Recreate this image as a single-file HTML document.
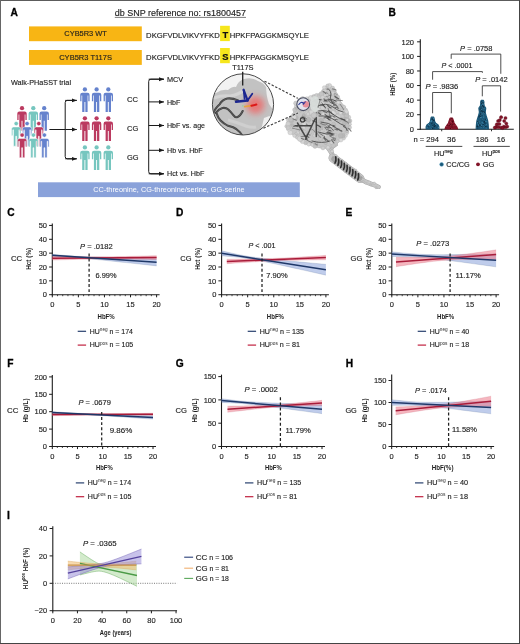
<!DOCTYPE html><html><head><meta charset="utf-8"><style>html,body{margin:0;padding:0;background:#fff;}svg{display:block;font-family:"Liberation Sans",sans-serif;will-change:transform;}</style></head><body>
<svg width="520" height="644" viewBox="0 0 520 644">
<rect x="0.00" y="0.00" width="520.00" height="644.00" fill="#fff"/>
<text x="10.60" y="15.60" font-size="10.2" font-weight="bold" fill="#000" stroke="#000" stroke-width="0.3">A</text>
<text x="114.80" y="16.00" font-size="8.9" textLength="131.2" lengthAdjust="spacingAndGlyphs" fill="#1e1e1e" stroke="#1e1e1e" stroke-width="0.14">db SNP reference no: rs1800457</text>
<line x1="114.80" y1="17.40" x2="246.00" y2="17.40" stroke="#444" stroke-width="0.7"/>
<rect x="29.00" y="26.40" width="112.80" height="14.80" fill="#f8b514"/>
<rect x="29.00" y="50.00" width="112.80" height="14.90" fill="#f8b514"/>
<text x="85.60" y="36.40" font-size="7.4" text-anchor="middle" textLength="42.6" lengthAdjust="spacingAndGlyphs" fill="#1e1e1e" stroke="#1e1e1e" stroke-width="0.14">CYB5R3 WT</text>
<text x="85.60" y="60.00" font-size="7.4" text-anchor="middle" textLength="52.8" lengthAdjust="spacingAndGlyphs" fill="#1e1e1e" stroke="#1e1e1e" stroke-width="0.14">CYB5R3 T117S</text>
<rect x="220.10" y="25.80" width="9.70" height="15.30" fill="#f6e61c"/>
<rect x="220.10" y="48.00" width="9.70" height="15.20" fill="#f6e61c"/>
<text x="146.10" y="37.70" font-size="7.7" textLength="73.6" lengthAdjust="spacingAndGlyphs" fill="#1e1e1e" stroke="#1e1e1e" stroke-width="0.14">DKGFVDLVIKVYFKD</text>
<text x="225.3" y="37.70" font-size="9.3" font-weight="bold" text-anchor="middle" fill="#111" stroke="#111" stroke-width="0.2">T</text>
<text x="229.70" y="37.70" font-size="7.7" textLength="79.3" lengthAdjust="spacingAndGlyphs" fill="#1e1e1e" stroke="#1e1e1e" stroke-width="0.14">HPKFPAGGKMSQYLE</text>
<text x="146.10" y="60.40" font-size="7.7" textLength="73.6" lengthAdjust="spacingAndGlyphs" fill="#1e1e1e" stroke="#1e1e1e" stroke-width="0.14">DKGFVDLVIKVYFKD</text>
<text x="225.3" y="60.40" font-size="9.3" font-weight="bold" text-anchor="middle" fill="#111" stroke="#111" stroke-width="0.2">S</text>
<text x="229.70" y="60.40" font-size="7.7" textLength="79.3" lengthAdjust="spacingAndGlyphs" fill="#1e1e1e" stroke="#1e1e1e" stroke-width="0.14">HPKFPAGGKMSQYLE</text>
<text x="232.20" y="70.40" font-size="7.4" textLength="21.4" lengthAdjust="spacingAndGlyphs" fill="#1e1e1e" stroke="#1e1e1e" stroke-width="0.14">T117S</text>
<text x="11.00" y="85.20" font-size="7.3" textLength="60" lengthAdjust="spacingAndGlyphs" fill="#1e1e1e" stroke="#1e1e1e" stroke-width="0.14">Walk-PHaSST trial</text>
<defs><g id="pp"><circle cx="0" cy="0" r="2.15"/><path d="M-4.7,5.4 Q-4.7,3.3 -2.6,3.3 L2.6,3.3 Q4.7,3.3 4.7,5.4 L4.7,11.8 L3.4,11.8 L3.4,6.2 L2.7,6.2 L2.7,22.6 L0.45,22.6 L0.45,12.6 L-0.45,12.6 L-0.45,22.6 L-2.7,22.6 L-2.7,6.2 L-3.4,6.2 L-3.4,11.8 L-4.7,11.8 Z"/></g></defs>
<use href="#pp" x="22.00" y="108.20" fill="#bb3a60"/>
<use href="#pp" x="33.30" y="108.20" fill="#76c6bf"/>
<use href="#pp" x="44.20" y="108.20" fill="#6582cd"/>
<use href="#pp" x="16.20" y="123.60" fill="#76c6bf" stroke="#fff" stroke-width="0.5"/>
<use href="#pp" x="27.10" y="123.60" fill="#6582cd" stroke="#fff" stroke-width="0.5"/>
<use href="#pp" x="38.80" y="123.60" fill="#bb3a60" stroke="#fff" stroke-width="0.5"/>
<use href="#pp" x="22.10" y="135.10" fill="#bb3a60" stroke="#fff" stroke-width="0.5"/>
<use href="#pp" x="33.40" y="135.10" fill="#76c6bf" stroke="#fff" stroke-width="0.5"/>
<use href="#pp" x="44.40" y="135.10" fill="#6582cd" stroke="#fff" stroke-width="0.5"/>
<use href="#pp" x="84.90" y="89.40" fill="#6582cd"/>
<use href="#pp" x="96.60" y="89.40" fill="#6582cd"/>
<use href="#pp" x="108.30" y="89.40" fill="#6582cd"/>
<use href="#pp" x="84.90" y="118.30" fill="#bb3a60"/>
<use href="#pp" x="96.60" y="118.30" fill="#bb3a60"/>
<use href="#pp" x="108.30" y="118.30" fill="#bb3a60"/>
<use href="#pp" x="84.90" y="147.40" fill="#76c6bf"/>
<use href="#pp" x="96.60" y="147.40" fill="#76c6bf"/>
<use href="#pp" x="108.30" y="147.40" fill="#76c6bf"/>
<defs><marker id="ah" viewBox="0 0 10 10" refX="10" refY="5" markerWidth="5.2" markerHeight="5.2" markerUnits="userSpaceOnUse" orient="auto"><path d="M0,1 L10,5 L0,9 Z" fill="#1a1a1a"/></marker></defs>
<line x1="49.40" y1="129.50" x2="65.20" y2="129.50" stroke="#1a1a1a" stroke-width="1"/>
<path d="M76.6,100.4 L67.4,100.4 Q65.2,100.4 65.2,102.6 L65.2,156.6 Q65.2,158.8 67.4,158.8 L76.6,158.8" fill="none" stroke="#1a1a1a" stroke-width="1"/>
<line x1="65.20" y1="100.40" x2="76.80" y2="100.40" stroke="#1a1a1a" stroke-width="1" marker-end="url(#ah)"/>
<line x1="65.20" y1="129.50" x2="76.80" y2="129.50" stroke="#1a1a1a" stroke-width="1" marker-end="url(#ah)"/>
<line x1="65.20" y1="158.80" x2="76.80" y2="158.80" stroke="#1a1a1a" stroke-width="1" marker-end="url(#ah)"/>
<text x="127.00" y="101.90" font-size="7.6" textLength="11" lengthAdjust="spacingAndGlyphs" fill="#1e1e1e" stroke="#1e1e1e" stroke-width="0.14">CC</text>
<text x="127.00" y="131.00" font-size="7.6" textLength="11.2" lengthAdjust="spacingAndGlyphs" fill="#1e1e1e" stroke="#1e1e1e" stroke-width="0.14">CG</text>
<text x="127.00" y="159.70" font-size="7.6" textLength="11.6" lengthAdjust="spacingAndGlyphs" fill="#1e1e1e" stroke="#1e1e1e" stroke-width="0.14">GG</text>
<path d="M163.8,79.2 L150.9,79.2 Q148.7,79.2 148.7,81.4 L148.7,171.6 Q148.7,173.8 150.9,173.8 L163.8,173.8" fill="none" stroke="#1a1a1a" stroke-width="1"/>
<line x1="148.70" y1="79.20" x2="164.00" y2="79.20" stroke="#1a1a1a" stroke-width="1" marker-end="url(#ah)"/>
<text x="167.00" y="81.80" font-size="7.3" textLength="16.2" lengthAdjust="spacingAndGlyphs" fill="#1e1e1e" stroke="#1e1e1e" stroke-width="0.14">MCV</text>
<line x1="148.70" y1="101.90" x2="164.00" y2="101.90" stroke="#1a1a1a" stroke-width="1" marker-end="url(#ah)"/>
<text x="167.00" y="104.50" font-size="7.3" textLength="13.4" lengthAdjust="spacingAndGlyphs" fill="#1e1e1e" stroke="#1e1e1e" stroke-width="0.14">HbF</text>
<line x1="148.70" y1="125.50" x2="164.00" y2="125.50" stroke="#1a1a1a" stroke-width="1" marker-end="url(#ah)"/>
<text x="167.00" y="128.10" font-size="7.3" textLength="38" lengthAdjust="spacingAndGlyphs" fill="#1e1e1e" stroke="#1e1e1e" stroke-width="0.14">HbF vs. age</text>
<line x1="148.70" y1="150.30" x2="164.00" y2="150.30" stroke="#1a1a1a" stroke-width="1" marker-end="url(#ah)"/>
<text x="167.00" y="152.90" font-size="7.3" textLength="35.6" lengthAdjust="spacingAndGlyphs" fill="#1e1e1e" stroke="#1e1e1e" stroke-width="0.14">Hb vs. HbF</text>
<line x1="148.70" y1="173.80" x2="164.00" y2="173.80" stroke="#1a1a1a" stroke-width="1" marker-end="url(#ah)"/>
<text x="167.00" y="176.40" font-size="7.3" textLength="37.4" lengthAdjust="spacingAndGlyphs" fill="#1e1e1e" stroke="#1e1e1e" stroke-width="0.14">Hct vs. HbF</text>
<rect x="38.00" y="182.30" width="261.80" height="14.80" fill="#8aa2da"/>
<text x="93.30" y="192.30" font-size="7.3" textLength="151.3" lengthAdjust="spacingAndGlyphs" fill="#fff">CC-threonine, CG-threonine/serine, GG-serine</text>
<defs><filter id="bl" x="-20%" y="-20%" width="140%" height="140%"><feGaussianBlur stdDeviation="0.6"/></filter><filter id="bl2" x="-50%" y="-50%" width="200%" height="200%"><feGaussianBlur stdDeviation="3"/></filter><filter id="bl3" x="-20%" y="-20%" width="140%" height="140%"><feGaussianBlur stdDeviation="0.35"/></filter><clipPath id="cc"><circle cx="243" cy="104.4" r="30.6"/></clipPath></defs>
<path d="M326,145 L329,149 L331.5,153 L333,158" fill="none" stroke="#a9a9a9" stroke-width="4.6" stroke-linecap="round" stroke-linejoin="round" filter="url(#bl3)"/>
<path d="M326,145 L329,149 L331.5,153 L333,158" fill="none" stroke="#c6c6c6" stroke-width="3.6" stroke-linecap="round" stroke-linejoin="round" filter="url(#bl3)"/>
<path d="M330.5,148.5 L336.5,144.2" fill="none" stroke="#a9a9a9" stroke-width="3.6" stroke-linecap="round" stroke-linejoin="round" filter="url(#bl3)"/>
<path d="M330.5,148.5 L336.5,144.2" fill="none" stroke="#c6c6c6" stroke-width="2.6" stroke-linecap="round" stroke-linejoin="round" filter="url(#bl3)"/>
<path d="M333,158 L346.5,168.2 L360,178.5" fill="none" stroke="#a9a9a9" stroke-width="9.0" stroke-linecap="round" stroke-linejoin="round" filter="url(#bl3)"/>
<path d="M333,158 L346.5,168.2 L360,178.5" fill="none" stroke="#c6c6c6" stroke-width="8.0" stroke-linecap="round" stroke-linejoin="round" filter="url(#bl3)"/>
<path d="M360,178.5 L365,181.5 L370,183.5 L375,185.3 L378.5,187" fill="none" stroke="#a9a9a9" stroke-width="4.6" stroke-linecap="round" stroke-linejoin="round" filter="url(#bl3)"/>
<path d="M360,178.5 L365,181.5 L370,183.5 L375,185.3 L378.5,187" fill="none" stroke="#c6c6c6" stroke-width="3.6" stroke-linecap="round" stroke-linejoin="round" filter="url(#bl3)"/>
<g filter="url(#bl3)">
<circle cx="325.4" cy="147.0" r="1.2" fill="#d4d4d4" stroke="#a5a5a5" stroke-width="0.35"/>
<circle cx="329.1" cy="147.4" r="1.2" fill="#c2c2c2" stroke="#a5a5a5" stroke-width="0.35"/>
<circle cx="330.5" cy="149.5" r="1.0" fill="#d4d4d4" stroke="#a5a5a5" stroke-width="0.35"/>
<circle cx="332.1" cy="151.2" r="1.6" fill="#d4d4d4" stroke="#a5a5a5" stroke-width="0.35"/>
<circle cx="333.3" cy="153.8" r="0.9" fill="#c2c2c2" stroke="#a5a5a5" stroke-width="0.35"/>
<circle cx="333.7" cy="156.4" r="1.3" fill="#cdcdcd" stroke="#a5a5a5" stroke-width="0.35"/>
<circle cx="332.0" cy="148.5" r="1.5" fill="#c2c2c2" stroke="#a5a5a5" stroke-width="0.35"/>
<circle cx="332.9" cy="145.5" r="0.9" fill="#d4d4d4" stroke="#a5a5a5" stroke-width="0.35"/>
<circle cx="334.9" cy="144.1" r="1.2" fill="#d4d4d4" stroke="#a5a5a5" stroke-width="0.35"/>
<circle cx="336.0" cy="156.0" r="1.4" fill="#d4d4d4" stroke="#a5a5a5" stroke-width="0.35"/>
<circle cx="334.7" cy="161.8" r="1.4" fill="#c2c2c2" stroke="#a5a5a5" stroke-width="0.35"/>
<circle cx="336.5" cy="163.4" r="1.2" fill="#d4d4d4" stroke="#a5a5a5" stroke-width="0.35"/>
<circle cx="342.0" cy="160.2" r="1.0" fill="#cdcdcd" stroke="#a5a5a5" stroke-width="0.35"/>
<circle cx="343.5" cy="162.2" r="1.2" fill="#c2c2c2" stroke="#a5a5a5" stroke-width="0.35"/>
<circle cx="345.5" cy="163.5" r="1.4" fill="#cdcdcd" stroke="#a5a5a5" stroke-width="0.35"/>
<circle cx="343.9" cy="169.6" r="1.1" fill="#d4d4d4" stroke="#a5a5a5" stroke-width="0.35"/>
<circle cx="345.3" cy="171.7" r="1.0" fill="#cdcdcd" stroke="#a5a5a5" stroke-width="0.35"/>
<circle cx="350.6" cy="168.8" r="1.5" fill="#d4d4d4" stroke="#a5a5a5" stroke-width="0.35"/>
<circle cx="353.4" cy="169.2" r="1.2" fill="#cdcdcd" stroke="#a5a5a5" stroke-width="0.35"/>
<circle cx="355.7" cy="170.2" r="1.2" fill="#cdcdcd" stroke="#a5a5a5" stroke-width="0.35"/>
<circle cx="353.8" cy="176.6" r="1.6" fill="#d4d4d4" stroke="#a5a5a5" stroke-width="0.35"/>
<circle cx="358.6" cy="174.3" r="1.1" fill="#c2c2c2" stroke="#a5a5a5" stroke-width="0.35"/>
<circle cx="360.5" cy="175.8" r="1.6" fill="#d4d4d4" stroke="#a5a5a5" stroke-width="0.35"/>
<circle cx="361.7" cy="178.4" r="1.0" fill="#cdcdcd" stroke="#a5a5a5" stroke-width="0.35"/>
<circle cx="363.3" cy="181.5" r="1.1" fill="#c2c2c2" stroke="#a5a5a5" stroke-width="0.35"/>
<circle cx="365.8" cy="183.2" r="1.0" fill="#cdcdcd" stroke="#a5a5a5" stroke-width="0.35"/>
<circle cx="369.1" cy="182.2" r="1.2" fill="#d4d4d4" stroke="#a5a5a5" stroke-width="0.35"/>
<circle cx="370.9" cy="184.9" r="1.2" fill="#c2c2c2" stroke="#a5a5a5" stroke-width="0.35"/>
<circle cx="374.3" cy="183.3" r="1.3" fill="#cdcdcd" stroke="#a5a5a5" stroke-width="0.35"/>
<circle cx="376.0" cy="187.7" r="1.1" fill="#c2c2c2" stroke="#a5a5a5" stroke-width="0.35"/>
</g>
<path d="M329.8,85.4 L335.1,90.8 L337.8,97.5 L340.5,102.9 L344.6,106.9 L347.3,113.6 L349.9,120.4 L349.9,127.1 L347.3,132.5 L343.2,137.9 L337.8,141.9 L333,145 L328,147.5 L323,148 L315,146 L305.5,143.3 L297.5,137.9 L290.7,132.5 L286.7,125.8 L288,120.4 L293.4,115 L294.8,109.6 L296.1,102.9 L303,98.5 L310.9,97.5 L316.3,94.8 L321.7,93.5 L324.4,88 L327.1,85.4 Z" fill="#c6c6c6" stroke="#c6c6c6" stroke-width="2" stroke-linejoin="round" filter="url(#bl3)"/>
<g filter="url(#bl3)">
<circle cx="329.4" cy="85.7" r="2.3" fill="#d4d4d4" stroke="#adadad" stroke-width="0.35"/>
<circle cx="332.7" cy="88.0" r="1.9" fill="#cdcdcd" stroke="#adadad" stroke-width="0.35"/>
<circle cx="335.0" cy="90.3" r="1.4" fill="#c4c4c4" stroke="#adadad" stroke-width="0.35"/>
<circle cx="336.1" cy="94.4" r="1.7" fill="#dadada" stroke="#adadad" stroke-width="0.35"/>
<circle cx="337.6" cy="97.1" r="2.1" fill="#cdcdcd" stroke="#adadad" stroke-width="0.35"/>
<circle cx="338.7" cy="100.2" r="2.1" fill="#cdcdcd" stroke="#adadad" stroke-width="0.35"/>
<circle cx="340.2" cy="103.4" r="1.6" fill="#cdcdcd" stroke="#adadad" stroke-width="0.35"/>
<circle cx="344.1" cy="106.8" r="1.6" fill="#cdcdcd" stroke="#adadad" stroke-width="0.35"/>
<circle cx="345.6" cy="110.1" r="2.0" fill="#d4d4d4" stroke="#adadad" stroke-width="0.35"/>
<circle cx="346.8" cy="113.2" r="1.9" fill="#c4c4c4" stroke="#adadad" stroke-width="0.35"/>
<circle cx="348.8" cy="117.2" r="2.0" fill="#d4d4d4" stroke="#adadad" stroke-width="0.35"/>
<circle cx="350.0" cy="120.9" r="1.9" fill="#c4c4c4" stroke="#adadad" stroke-width="0.35"/>
<circle cx="350.1" cy="124.3" r="1.4" fill="#cdcdcd" stroke="#adadad" stroke-width="0.35"/>
<circle cx="349.9" cy="127.4" r="1.7" fill="#cdcdcd" stroke="#adadad" stroke-width="0.35"/>
<circle cx="346.8" cy="132.6" r="2.1" fill="#d4d4d4" stroke="#adadad" stroke-width="0.35"/>
<circle cx="345.6" cy="135.7" r="1.8" fill="#dadada" stroke="#adadad" stroke-width="0.35"/>
<circle cx="343.7" cy="138.3" r="1.8" fill="#cdcdcd" stroke="#adadad" stroke-width="0.35"/>
<circle cx="340.9" cy="140.0" r="2.0" fill="#dadada" stroke="#adadad" stroke-width="0.35"/>
<circle cx="337.7" cy="141.3" r="1.5" fill="#cdcdcd" stroke="#adadad" stroke-width="0.35"/>
<circle cx="333.2" cy="145.6" r="2.3" fill="#c4c4c4" stroke="#adadad" stroke-width="0.35"/>
<circle cx="327.9" cy="147.8" r="2.0" fill="#dadada" stroke="#adadad" stroke-width="0.35"/>
<circle cx="323.0" cy="148.0" r="1.9" fill="#cdcdcd" stroke="#adadad" stroke-width="0.35"/>
<circle cx="318.8" cy="146.5" r="1.4" fill="#cdcdcd" stroke="#adadad" stroke-width="0.35"/>
<circle cx="315.0" cy="146.1" r="2.3" fill="#c4c4c4" stroke="#adadad" stroke-width="0.35"/>
<circle cx="312.3" cy="144.9" r="1.5" fill="#d4d4d4" stroke="#adadad" stroke-width="0.35"/>
<circle cx="308.7" cy="144.5" r="1.7" fill="#dadada" stroke="#adadad" stroke-width="0.35"/>
<circle cx="305.5" cy="143.0" r="1.8" fill="#c4c4c4" stroke="#adadad" stroke-width="0.35"/>
<circle cx="302.5" cy="141.4" r="2.2" fill="#d4d4d4" stroke="#adadad" stroke-width="0.35"/>
<circle cx="300.6" cy="139.6" r="2.0" fill="#c4c4c4" stroke="#adadad" stroke-width="0.35"/>
<circle cx="297.2" cy="137.5" r="1.8" fill="#cdcdcd" stroke="#adadad" stroke-width="0.35"/>
<circle cx="294.4" cy="135.7" r="1.7" fill="#d4d4d4" stroke="#adadad" stroke-width="0.35"/>
<circle cx="290.2" cy="132.5" r="2.3" fill="#dadada" stroke="#adadad" stroke-width="0.35"/>
<circle cx="288.6" cy="129.2" r="2.1" fill="#dadada" stroke="#adadad" stroke-width="0.35"/>
<circle cx="286.5" cy="126.2" r="1.7" fill="#cdcdcd" stroke="#adadad" stroke-width="0.35"/>
<circle cx="288.2" cy="120.1" r="1.8" fill="#cdcdcd" stroke="#adadad" stroke-width="0.35"/>
<circle cx="290.9" cy="117.6" r="1.6" fill="#c4c4c4" stroke="#adadad" stroke-width="0.35"/>
<circle cx="293.1" cy="114.6" r="1.4" fill="#cdcdcd" stroke="#adadad" stroke-width="0.35"/>
<circle cx="294.7" cy="109.8" r="2.1" fill="#c4c4c4" stroke="#adadad" stroke-width="0.35"/>
<circle cx="296.0" cy="106.5" r="1.6" fill="#dadada" stroke="#adadad" stroke-width="0.35"/>
<circle cx="295.8" cy="103.2" r="2.2" fill="#cdcdcd" stroke="#adadad" stroke-width="0.35"/>
<circle cx="299.2" cy="100.4" r="1.7" fill="#d4d4d4" stroke="#adadad" stroke-width="0.35"/>
<circle cx="302.9" cy="98.9" r="2.3" fill="#cdcdcd" stroke="#adadad" stroke-width="0.35"/>
<circle cx="306.8" cy="98.5" r="1.8" fill="#dadada" stroke="#adadad" stroke-width="0.35"/>
<circle cx="310.8" cy="97.7" r="2.3" fill="#dadada" stroke="#adadad" stroke-width="0.35"/>
<circle cx="313.7" cy="96.3" r="1.9" fill="#c4c4c4" stroke="#adadad" stroke-width="0.35"/>
<circle cx="316.3" cy="95.0" r="1.6" fill="#cdcdcd" stroke="#adadad" stroke-width="0.35"/>
<circle cx="321.4" cy="94.0" r="2.4" fill="#c4c4c4" stroke="#adadad" stroke-width="0.35"/>
<circle cx="323.1" cy="91.1" r="1.7" fill="#cdcdcd" stroke="#adadad" stroke-width="0.35"/>
<circle cx="324.2" cy="87.5" r="1.8" fill="#dadada" stroke="#adadad" stroke-width="0.35"/>
<circle cx="327.4" cy="85.4" r="1.4" fill="#cdcdcd" stroke="#adadad" stroke-width="0.35"/>
<circle cx="320.4" cy="128.4" r="2.5" fill="#b8b8b8" stroke="#a8a8a8" stroke-width="0.3"/>
<circle cx="296.1" cy="117.7" r="2.2" fill="#b8b8b8" stroke="#a8a8a8" stroke-width="0.3"/>
<circle cx="346.5" cy="116.2" r="2.5" fill="#c0c0c0" stroke="#a8a8a8" stroke-width="0.3"/>
<circle cx="334.6" cy="112.9" r="2.0" fill="#d6d6d6" stroke="#a8a8a8" stroke-width="0.3"/>
<circle cx="327.1" cy="118.1" r="2.4" fill="#d6d6d6" stroke="#a8a8a8" stroke-width="0.3"/>
<circle cx="302.9" cy="127.4" r="2.5" fill="#d6d6d6" stroke="#a8a8a8" stroke-width="0.3"/>
<circle cx="299.9" cy="138.7" r="2.6" fill="#d6d6d6" stroke="#a8a8a8" stroke-width="0.3"/>
<circle cx="304.0" cy="116.6" r="1.8" fill="#c0c0c0" stroke="#a8a8a8" stroke-width="0.3"/>
<circle cx="318.5" cy="123.3" r="1.3" fill="#c0c0c0" stroke="#a8a8a8" stroke-width="0.3"/>
<circle cx="319.3" cy="110.5" r="2.3" fill="#d6d6d6" stroke="#a8a8a8" stroke-width="0.3"/>
<circle cx="315.7" cy="143.0" r="2.3" fill="#b8b8b8" stroke="#a8a8a8" stroke-width="0.3"/>
<circle cx="303.7" cy="115.0" r="1.5" fill="#b8b8b8" stroke="#a8a8a8" stroke-width="0.3"/>
<circle cx="344.8" cy="118.3" r="1.4" fill="#b8b8b8" stroke="#a8a8a8" stroke-width="0.3"/>
<circle cx="325.8" cy="143.3" r="1.5" fill="#c0c0c0" stroke="#a8a8a8" stroke-width="0.3"/>
<circle cx="332.4" cy="100.7" r="1.9" fill="#b8b8b8" stroke="#a8a8a8" stroke-width="0.3"/>
<circle cx="332.9" cy="93.1" r="2.0" fill="#d0d0d0" stroke="#a8a8a8" stroke-width="0.3"/>
<circle cx="332.1" cy="129.3" r="2.4" fill="#c0c0c0" stroke="#a8a8a8" stroke-width="0.3"/>
<circle cx="310.4" cy="111.3" r="2.0" fill="#c8c8c8" stroke="#a8a8a8" stroke-width="0.3"/>
<circle cx="320.7" cy="139.5" r="2.0" fill="#c8c8c8" stroke="#a8a8a8" stroke-width="0.3"/>
<circle cx="320.2" cy="138.7" r="2.1" fill="#c8c8c8" stroke="#a8a8a8" stroke-width="0.3"/>
<circle cx="301.4" cy="131.8" r="2.4" fill="#c8c8c8" stroke="#a8a8a8" stroke-width="0.3"/>
<circle cx="306.7" cy="105.1" r="2.5" fill="#c8c8c8" stroke="#a8a8a8" stroke-width="0.3"/>
<circle cx="335.9" cy="97.6" r="1.4" fill="#c8c8c8" stroke="#a8a8a8" stroke-width="0.3"/>
<circle cx="311.2" cy="112.6" r="2.5" fill="#d6d6d6" stroke="#a8a8a8" stroke-width="0.3"/>
<circle cx="312.2" cy="128.3" r="1.3" fill="#c8c8c8" stroke="#a8a8a8" stroke-width="0.3"/>
<circle cx="322.7" cy="107.8" r="2.4" fill="#d0d0d0" stroke="#a8a8a8" stroke-width="0.3"/>
<circle cx="294.0" cy="117.1" r="2.3" fill="#d6d6d6" stroke="#a8a8a8" stroke-width="0.3"/>
<circle cx="337.4" cy="115.6" r="1.3" fill="#d6d6d6" stroke="#a8a8a8" stroke-width="0.3"/>
<circle cx="325.5" cy="142.1" r="1.9" fill="#c8c8c8" stroke="#a8a8a8" stroke-width="0.3"/>
<circle cx="315.9" cy="133.3" r="1.7" fill="#b8b8b8" stroke="#a8a8a8" stroke-width="0.3"/>
<circle cx="313.7" cy="107.6" r="1.6" fill="#d0d0d0" stroke="#a8a8a8" stroke-width="0.3"/>
<circle cx="315.4" cy="131.7" r="1.8" fill="#c8c8c8" stroke="#a8a8a8" stroke-width="0.3"/>
<circle cx="324.9" cy="91.3" r="2.3" fill="#d0d0d0" stroke="#a8a8a8" stroke-width="0.3"/>
<circle cx="343.1" cy="135.6" r="2.2" fill="#b8b8b8" stroke="#a8a8a8" stroke-width="0.3"/>
<circle cx="322.7" cy="97.4" r="2.1" fill="#d0d0d0" stroke="#a8a8a8" stroke-width="0.3"/>
<circle cx="337.6" cy="101.6" r="2.5" fill="#c8c8c8" stroke="#a8a8a8" stroke-width="0.3"/>
<circle cx="338.2" cy="110.8" r="2.5" fill="#d6d6d6" stroke="#a8a8a8" stroke-width="0.3"/>
<circle cx="330.6" cy="133.4" r="2.3" fill="#b8b8b8" stroke="#a8a8a8" stroke-width="0.3"/>
<circle cx="337.1" cy="104.3" r="1.4" fill="#d0d0d0" stroke="#a8a8a8" stroke-width="0.3"/>
<circle cx="300.4" cy="110.8" r="1.5" fill="#c0c0c0" stroke="#a8a8a8" stroke-width="0.3"/>
<circle cx="327.3" cy="129.3" r="2.3" fill="#d6d6d6" stroke="#a8a8a8" stroke-width="0.3"/>
<circle cx="288.1" cy="123.9" r="2.3" fill="#d0d0d0" stroke="#a8a8a8" stroke-width="0.3"/>
<circle cx="314.7" cy="117.0" r="2.3" fill="#b8b8b8" stroke="#a8a8a8" stroke-width="0.3"/>
<circle cx="304.1" cy="106.7" r="2.0" fill="#b8b8b8" stroke="#a8a8a8" stroke-width="0.3"/>
<circle cx="347.8" cy="121.0" r="2.6" fill="#b8b8b8" stroke="#a8a8a8" stroke-width="0.3"/>
<circle cx="324.5" cy="132.9" r="1.4" fill="#c8c8c8" stroke="#a8a8a8" stroke-width="0.3"/>
<circle cx="340.8" cy="119.3" r="2.1" fill="#b8b8b8" stroke="#a8a8a8" stroke-width="0.3"/>
<circle cx="346.4" cy="111.7" r="2.0" fill="#d6d6d6" stroke="#a8a8a8" stroke-width="0.3"/>
<circle cx="306.4" cy="118.6" r="1.9" fill="#d0d0d0" stroke="#a8a8a8" stroke-width="0.3"/>
<circle cx="322.1" cy="103.1" r="2.2" fill="#d0d0d0" stroke="#a8a8a8" stroke-width="0.3"/>
<circle cx="323.7" cy="125.0" r="1.8" fill="#b8b8b8" stroke="#a8a8a8" stroke-width="0.3"/>
<circle cx="311.8" cy="121.8" r="2.2" fill="#d0d0d0" stroke="#a8a8a8" stroke-width="0.3"/>
<circle cx="313.8" cy="115.3" r="2.6" fill="#c8c8c8" stroke="#a8a8a8" stroke-width="0.3"/>
<circle cx="302.2" cy="129.6" r="1.4" fill="#b8b8b8" stroke="#a8a8a8" stroke-width="0.3"/>
<circle cx="315.5" cy="98.1" r="1.4" fill="#d6d6d6" stroke="#a8a8a8" stroke-width="0.3"/>
<circle cx="296.5" cy="108.1" r="1.5" fill="#b8b8b8" stroke="#a8a8a8" stroke-width="0.3"/>
<circle cx="315.5" cy="101.8" r="2.1" fill="#b8b8b8" stroke="#a8a8a8" stroke-width="0.3"/>
<circle cx="309.7" cy="132.0" r="2.4" fill="#c8c8c8" stroke="#a8a8a8" stroke-width="0.3"/>
<circle cx="346.9" cy="131.4" r="1.6" fill="#c0c0c0" stroke="#a8a8a8" stroke-width="0.3"/>
<circle cx="318.5" cy="104.7" r="2.0" fill="#d0d0d0" stroke="#a8a8a8" stroke-width="0.3"/>
<circle cx="304.1" cy="123.6" r="2.2" fill="#d6d6d6" stroke="#a8a8a8" stroke-width="0.3"/>
<circle cx="298.7" cy="102.8" r="1.6" fill="#c8c8c8" stroke="#a8a8a8" stroke-width="0.3"/>
<circle cx="318.4" cy="126.3" r="1.6" fill="#c0c0c0" stroke="#a8a8a8" stroke-width="0.3"/>
<circle cx="304.3" cy="132.7" r="2.5" fill="#c8c8c8" stroke="#a8a8a8" stroke-width="0.3"/>
<circle cx="321.5" cy="124.9" r="1.8" fill="#b8b8b8" stroke="#a8a8a8" stroke-width="0.3"/>
<circle cx="309.1" cy="106.6" r="1.9" fill="#c8c8c8" stroke="#a8a8a8" stroke-width="0.3"/>
<circle cx="326.1" cy="133.5" r="1.6" fill="#b8b8b8" stroke="#a8a8a8" stroke-width="0.3"/>
<circle cx="333.9" cy="109.8" r="1.5" fill="#c8c8c8" stroke="#a8a8a8" stroke-width="0.3"/>
<circle cx="328.0" cy="147.3" r="1.7" fill="#d6d6d6" stroke="#a8a8a8" stroke-width="0.3"/>
<circle cx="334.7" cy="137.1" r="1.5" fill="#d0d0d0" stroke="#a8a8a8" stroke-width="0.3"/>
<circle cx="323.4" cy="114.3" r="1.7" fill="#d6d6d6" stroke="#a8a8a8" stroke-width="0.3"/>
<circle cx="291.9" cy="120.7" r="1.9" fill="#b8b8b8" stroke="#a8a8a8" stroke-width="0.3"/>
<circle cx="305.6" cy="133.9" r="1.4" fill="#c8c8c8" stroke="#a8a8a8" stroke-width="0.3"/>
<circle cx="344.3" cy="123.2" r="2.2" fill="#b8b8b8" stroke="#a8a8a8" stroke-width="0.3"/>
<circle cx="332.5" cy="128.8" r="1.7" fill="#c8c8c8" stroke="#a8a8a8" stroke-width="0.3"/>
<circle cx="300.5" cy="126.5" r="1.7" fill="#c0c0c0" stroke="#a8a8a8" stroke-width="0.3"/>
<circle cx="307.1" cy="113.0" r="2.1" fill="#d0d0d0" stroke="#a8a8a8" stroke-width="0.3"/>
<circle cx="314.4" cy="135.7" r="1.7" fill="#d0d0d0" stroke="#a8a8a8" stroke-width="0.3"/>
<circle cx="332.8" cy="117.7" r="1.4" fill="#d0d0d0" stroke="#a8a8a8" stroke-width="0.3"/>
<circle cx="288.2" cy="127.8" r="2.1" fill="#c8c8c8" stroke="#a8a8a8" stroke-width="0.3"/>
<circle cx="333.4" cy="108.5" r="1.8" fill="#c8c8c8" stroke="#a8a8a8" stroke-width="0.3"/>
<circle cx="339.6" cy="120.6" r="1.5" fill="#b8b8b8" stroke="#a8a8a8" stroke-width="0.3"/>
<circle cx="321.1" cy="120.9" r="2.6" fill="#b8b8b8" stroke="#a8a8a8" stroke-width="0.3"/>
<circle cx="290.7" cy="119.6" r="2.3" fill="#c0c0c0" stroke="#a8a8a8" stroke-width="0.3"/>
<circle cx="307.8" cy="102.5" r="1.4" fill="#d0d0d0" stroke="#a8a8a8" stroke-width="0.3"/>
<circle cx="292.1" cy="125.1" r="1.5" fill="#b8b8b8" stroke="#a8a8a8" stroke-width="0.3"/>
<circle cx="302.2" cy="99.2" r="2.3" fill="#d6d6d6" stroke="#a8a8a8" stroke-width="0.3"/>
<circle cx="308.1" cy="114.1" r="1.8" fill="#d0d0d0" stroke="#a8a8a8" stroke-width="0.3"/>
<circle cx="329.2" cy="116.3" r="2.0" fill="#c0c0c0" stroke="#a8a8a8" stroke-width="0.3"/>
<circle cx="331.5" cy="142.7" r="1.8" fill="#d0d0d0" stroke="#a8a8a8" stroke-width="0.3"/>
<circle cx="340.6" cy="135.8" r="2.4" fill="#b8b8b8" stroke="#a8a8a8" stroke-width="0.3"/>
<circle cx="347.2" cy="125.5" r="2.0" fill="#c0c0c0" stroke="#a8a8a8" stroke-width="0.3"/>
<circle cx="337.4" cy="111.8" r="1.8" fill="#c8c8c8" stroke="#a8a8a8" stroke-width="0.3"/>
<circle cx="326.8" cy="128.2" r="1.7" fill="#b8b8b8" stroke="#a8a8a8" stroke-width="0.3"/>
<circle cx="313.6" cy="103.7" r="2.6" fill="#c0c0c0" stroke="#a8a8a8" stroke-width="0.3"/>
<circle cx="316.5" cy="131.1" r="1.7" fill="#c8c8c8" stroke="#a8a8a8" stroke-width="0.3"/>
<circle cx="335.7" cy="96.6" r="1.4" fill="#b8b8b8" stroke="#a8a8a8" stroke-width="0.3"/>
<circle cx="337.3" cy="105.0" r="1.6" fill="#d0d0d0" stroke="#a8a8a8" stroke-width="0.3"/>
<circle cx="300.4" cy="100.1" r="2.2" fill="#d6d6d6" stroke="#a8a8a8" stroke-width="0.3"/>
<circle cx="318.8" cy="113.1" r="2.5" fill="#b8b8b8" stroke="#a8a8a8" stroke-width="0.3"/>
<circle cx="297.6" cy="132.8" r="1.7" fill="#d6d6d6" stroke="#a8a8a8" stroke-width="0.3"/>
<circle cx="346.2" cy="119.9" r="2.4" fill="#b8b8b8" stroke="#a8a8a8" stroke-width="0.3"/>
<circle cx="308.3" cy="119.7" r="2.5" fill="#b8b8b8" stroke="#a8a8a8" stroke-width="0.3"/>
<circle cx="341.2" cy="110.4" r="1.6" fill="#c8c8c8" stroke="#a8a8a8" stroke-width="0.3"/>
<circle cx="337.3" cy="109.5" r="2.0" fill="#d6d6d6" stroke="#a8a8a8" stroke-width="0.3"/>
<circle cx="335.6" cy="134.7" r="1.4" fill="#c8c8c8" stroke="#a8a8a8" stroke-width="0.3"/>
<circle cx="343.9" cy="113.6" r="1.6" fill="#b8b8b8" stroke="#a8a8a8" stroke-width="0.3"/>
<circle cx="325.0" cy="95.2" r="1.5" fill="#d0d0d0" stroke="#a8a8a8" stroke-width="0.3"/>
<circle cx="333.6" cy="124.2" r="2.0" fill="#c0c0c0" stroke="#a8a8a8" stroke-width="0.3"/>
<circle cx="296.2" cy="133.6" r="1.3" fill="#c8c8c8" stroke="#a8a8a8" stroke-width="0.3"/>
</g>
<g fill="none" stroke-linecap="round">
<path d="M324.6,127.5 Q327.3,129.4 327.2,130.8" stroke="#5a5a5a" stroke-width="0.71" opacity="0.85"/>
<path d="M322.0,104.5 Q324.6,106.0 325.5,107.9" stroke="#404040" stroke-width="1.03" opacity="0.85"/>
<path d="M332.8,102.9 Q333.0,103.5 335.6,105.2" stroke="#6a6a6a" stroke-width="1.10" opacity="0.85"/>
<path d="M318.1,99.3 Q320.1,100.0 321.1,99.7" stroke="#404040" stroke-width="1.09" opacity="0.85"/>
<path d="M316.4,112.6 Q318.3,112.0 320.5,114.4" stroke="#4a4a4a" stroke-width="1.24" opacity="0.85"/>
<path d="M320.9,123.6 Q324.5,125.5 326.6,124.6" stroke="#6a6a6a" stroke-width="1.03" opacity="0.85"/>
<path d="M318.8,104.3 Q319.8,104.8 322.2,105.5" stroke="#5a5a5a" stroke-width="0.97" opacity="0.85"/>
<path d="M328.2,100.5 Q329.0,102.3 332.0,103.3" stroke="#4a4a4a" stroke-width="0.81" opacity="0.85"/>
<path d="M328.9,132.8 Q329.4,132.2 332.0,133.9" stroke="#6a6a6a" stroke-width="1.16" opacity="0.85"/>
<path d="M326.9,132.2 Q328.5,132.4 332.3,134.4" stroke="#4a4a4a" stroke-width="1.19" opacity="0.85"/>
<path d="M328.4,110.6 Q330.7,112.8 331.9,112.2" stroke="#4a4a4a" stroke-width="1.10" opacity="0.85"/>
<path d="M335.5,96.8 Q336.6,98.2 338.6,98.7" stroke="#404040" stroke-width="1.03" opacity="0.85"/>
<path d="M322.6,110.6 Q324.1,111.8 327.1,112.7" stroke="#5a5a5a" stroke-width="1.03" opacity="0.85"/>
<path d="M327.3,118.0 Q329.1,120.4 329.6,119.9" stroke="#4a4a4a" stroke-width="1.04" opacity="0.85"/>
<path d="M316.9,125.0 Q318.4,125.6 320.5,127.1" stroke="#404040" stroke-width="1.26" opacity="0.85"/>
<path d="M327.6,116.4 Q330.4,115.7 330.4,117.1" stroke="#404040" stroke-width="1.04" opacity="0.85"/>
<path d="M324.5,136.0 Q324.0,139.2 325.7,140.4" stroke="#5a5a5a" stroke-width="1.11" opacity="0.85"/>
<path d="M327.6,129.4 Q328.3,130.5 331.0,131.0" stroke="#404040" stroke-width="0.97" opacity="0.85"/>
<path d="M328.9,130.4 Q329.1,132.9 327.8,133.2" stroke="#6a6a6a" stroke-width="1.07" opacity="0.85"/>
<path d="M336.5,129.6 Q337.7,127.9 339.5,129.0" stroke="#6a6a6a" stroke-width="0.77" opacity="0.85"/>
<path d="M329.0,110.8 Q329.8,113.5 333.4,114.5" stroke="#4a4a4a" stroke-width="0.94" opacity="0.85"/>
<path d="M331.9,100.5 Q334.5,103.0 334.7,103.0" stroke="#6a6a6a" stroke-width="1.15" opacity="0.85"/>
<path d="M331.5,139.8 Q332.5,141.5 333.9,142.9" stroke="#5a5a5a" stroke-width="1.02" opacity="0.85"/>
<path d="M329.8,135.8 Q330.3,136.0 333.3,134.9" stroke="#6a6a6a" stroke-width="1.14" opacity="0.85"/>
<path d="M335.1,129.1 Q335.3,129.3 337.7,129.9" stroke="#6a6a6a" stroke-width="1.28" opacity="0.85"/>
<path d="M331.2,100.6 Q332.8,103.6 334.1,105.5" stroke="#4a4a4a" stroke-width="1.23" opacity="0.85"/>
<path d="M348.0,128.2 Q349.7,128.7 351.1,131.3" stroke="#6a6a6a" stroke-width="1.04" opacity="0.85"/>
<path d="M333.2,137.8 Q333.7,137.5 335.7,138.3" stroke="#5a5a5a" stroke-width="0.80" opacity="0.85"/>
<path d="M330.1,115.8 Q331.7,115.8 334.9,117.0" stroke="#6a6a6a" stroke-width="1.24" opacity="0.85"/>
<path d="M325.9,117.9 Q329.9,119.1 331.1,120.4" stroke="#4a4a4a" stroke-width="0.82" opacity="0.85"/>
<path d="M343.5,126.5 Q346.5,127.1 347.2,130.6" stroke="#4a4a4a" stroke-width="1.02" opacity="0.85"/>
<path d="M323.6,137.8 Q326.4,138.9 328.4,141.2" stroke="#5a5a5a" stroke-width="1.28" opacity="0.85"/>
<path d="M324.8,114.5 Q327.7,116.3 328.9,118.6" stroke="#4a4a4a" stroke-width="0.83" opacity="0.85"/>
<path d="M325.8,127.3 Q326.4,126.8 328.9,128.0" stroke="#5a5a5a" stroke-width="1.17" opacity="0.85"/>
<path d="M327.9,125.1 Q328.3,127.7 329.9,127.8" stroke="#4a4a4a" stroke-width="0.87" opacity="0.85"/>
<path d="M336.5,100.0 Q339.3,100.3 342.4,100.6" stroke="#404040" stroke-width="0.70" opacity="0.85"/>
<path d="M334.8,119.6 Q337.8,118.7 337.8,119.6" stroke="#4a4a4a" stroke-width="0.87" opacity="0.85"/>
<path d="M333.5,104.2 Q337.1,104.7 337.7,108.0" stroke="#6a6a6a" stroke-width="1.25" opacity="0.85"/>
<path d="M334.7,96.1 Q336.7,98.1 337.0,97.7" stroke="#5a5a5a" stroke-width="1.09" opacity="0.85"/>
<path d="M341.1,118.7 Q344.1,120.1 345.0,120.4" stroke="#4a4a4a" stroke-width="1.06" opacity="0.85"/>
<path d="M329.9,125.4 Q333.1,125.1 334.9,126.2" stroke="#4a4a4a" stroke-width="1.21" opacity="0.85"/>
<path d="M335.3,107.5 Q338.2,106.8 338.3,108.7" stroke="#6a6a6a" stroke-width="1.22" opacity="0.85"/>
<path d="M321.8,102.7 Q322.7,103.7 323.9,106.1" stroke="#404040" stroke-width="0.74" opacity="0.85"/>
<path d="M345.0,121.0 Q347.8,121.4 348.8,123.3" stroke="#4a4a4a" stroke-width="0.73" opacity="0.85"/>
<path d="M329.6,126.6 Q332.2,128.5 333.3,130.3" stroke="#4a4a4a" stroke-width="0.93" opacity="0.85"/>
<path d="M323.9,117.9 Q326.6,117.3 328.7,117.1" stroke="#5a5a5a" stroke-width="0.95" opacity="0.85"/>
<path d="M327.7,105.5 Q330.2,108.2 331.1,107.9" stroke="#4a4a4a" stroke-width="1.15" opacity="0.85"/>
<path d="M332.7,139.4 Q333.5,140.0 334.9,140.5" stroke="#404040" stroke-width="0.94" opacity="0.85"/>
<path d="M325.5,114.7 Q328.8,117.0 330.5,118.0" stroke="#4a4a4a" stroke-width="0.88" opacity="0.85"/>
<path d="M319.8,133.6 Q320.3,133.8 323.2,135.7" stroke="#5a5a5a" stroke-width="0.90" opacity="0.85"/>
<path d="M317.5,133.5 Q317.6,135.0 320.4,137.3" stroke="#888" stroke-width="1.25" opacity="0.85"/>
<path d="M315.0,143.6 Q317.4,145.7 317.6,145.3" stroke="#666" stroke-width="0.93" opacity="0.85"/>
<path d="M312.3,120.9 Q313.4,120.7 316.5,122.3" stroke="#666" stroke-width="1.06" opacity="0.85"/>
<path d="M311.7,129.1 Q313.7,129.6 314.9,131.9" stroke="#777" stroke-width="0.82" opacity="0.85"/>
<path d="M302.0,116.3 Q302.1,116.0 305.2,117.5" stroke="#777" stroke-width="1.01" opacity="0.85"/>
<path d="M306.8,134.8 Q307.2,133.6 310.0,135.1" stroke="#888" stroke-width="1.26" opacity="0.85"/>
<path d="M301.4,138.5 Q302.0,138.6 303.8,139.3" stroke="#666" stroke-width="1.21" opacity="0.85"/>
<path d="M301.9,122.2 Q304.9,120.4 306.9,119.8" stroke="#888" stroke-width="0.84" opacity="0.85"/>
<path d="M293.1,118.8 Q294.5,119.7 296.4,120.2" stroke="#666" stroke-width="1.01" opacity="0.85"/>
<path d="M306.3,124.0 Q307.7,126.0 310.0,125.7" stroke="#777" stroke-width="1.02" opacity="0.85"/>
<path d="M303.7,118.4 Q304.7,118.8 306.5,118.6" stroke="#666" stroke-width="0.72" opacity="0.85"/>
<path d="M306.7,139.9 Q308.8,141.7 312.1,142.4" stroke="#666" stroke-width="1.03" opacity="0.85"/>
<path d="M301.2,117.9 Q302.7,120.2 305.6,120.7" stroke="#666" stroke-width="0.94" opacity="0.85"/>
<path d="M293.6,126.3 Q295.4,125.7 297.2,126.5" stroke="#666" stroke-width="1.26" opacity="0.85"/>
<path d="M301.1,136.8 Q304.8,136.1 306.7,135.5" stroke="#777" stroke-width="1.12" opacity="0.85"/>
<path d="M306.4,136.4 Q307.2,136.5 308.8,137.4" stroke="#666" stroke-width="1.25" opacity="0.85"/>
<path d="M322.9,91.3 Q326.0,91.6 326.7,94.5" stroke="#666" stroke-width="0.91" opacity="0.85"/>
<path d="M334.1,93.9 Q336.2,93.3 337.4,94.6" stroke="#777" stroke-width="0.93" opacity="0.85"/>
<path d="M324.1,98.6 Q323.5,98.7 325.4,101.6" stroke="#777" stroke-width="1.07" opacity="0.85"/>
<path d="M326.4,92.3 Q328.4,94.9 331.1,95.7" stroke="#777" stroke-width="0.89" opacity="0.85"/>
<path d="M324.5,99.7 Q326.3,99.9 327.1,101.7" stroke="#666" stroke-width="1.26" opacity="0.85"/>
<path d="M327.8,97.9 Q328.5,100.6 331.7,101.3" stroke="#777" stroke-width="0.86" opacity="0.85"/>
<path d="M332.5,88.9 Q333.0,88.9 335.5,89.8" stroke="#777" stroke-width="1.18" opacity="0.85"/>
<path d="M323.3,91.8 Q325.3,92.9 326.3,94.1" stroke="#666" stroke-width="0.92" opacity="0.85"/>
<path d="M330.7,98.8 Q334.4,101.2 336.2,101.3" stroke="#777" stroke-width="0.77" opacity="0.85"/>
<path d="M326.1,96.8 Q327.0,97.1 330.0,95.2" stroke="#777" stroke-width="0.73" opacity="0.85"/>
</g>
<g fill="#e2e2e2" opacity="0.8">
<circle cx="321.8" cy="130.8" r="0.6"/>
<circle cx="338.4" cy="102.6" r="1.2"/>
<circle cx="347.3" cy="119.7" r="1.0"/>
<circle cx="326.1" cy="131.3" r="0.8"/>
<circle cx="340.5" cy="112.7" r="1.2"/>
<circle cx="332.8" cy="112.0" r="1.2"/>
<circle cx="317.2" cy="112.4" r="0.6"/>
<circle cx="324.9" cy="134.3" r="0.6"/>
<circle cx="349.8" cy="123.8" r="0.7"/>
<circle cx="318.1" cy="110.9" r="0.8"/>
<circle cx="329.1" cy="94.5" r="0.6"/>
<circle cx="295.8" cy="125.6" r="1.2"/>
<circle cx="332.9" cy="100.4" r="0.9"/>
<circle cx="326.7" cy="94.5" r="0.7"/>
<circle cx="308.8" cy="131.6" r="0.6"/>
<circle cx="317.2" cy="106.5" r="0.7"/>
<circle cx="295.0" cy="128.7" r="0.8"/>
<circle cx="314.8" cy="133.8" r="0.8"/>
<circle cx="307.5" cy="104.2" r="1.3"/>
<circle cx="339.0" cy="116.3" r="0.7"/>
<circle cx="331.4" cy="125.8" r="1.2"/>
<circle cx="332.2" cy="116.9" r="0.6"/>
<circle cx="306.5" cy="102.1" r="1.0"/>
<circle cx="325.4" cy="135.4" r="1.1"/>
<circle cx="341.9" cy="112.1" r="1.0"/>
<circle cx="309.5" cy="130.8" r="0.7"/>
<circle cx="332.6" cy="104.6" r="0.7"/>
<circle cx="318.1" cy="111.0" r="1.2"/>
</g>
<ellipse cx="315" cy="104" rx="5" ry="8" fill="#dde3e0" opacity="0.8" filter="url(#bl)"/>
<g stroke="#474747" stroke-width="1.0" fill="none" stroke-linecap="round" opacity="0.85"><path d="M318,106 Q326,102 333,107 Q338,111 343,112"/><path d="M318,111 Q327,109 334,115 Q339,119 345,120"/><path d="M319,116 Q328,115 336,121 Q340,124 345,126"/><path d="M321,122 Q329,122 336,128 Q339,130 342,131"/><path d="M324,101 Q330,98 336,101"/><path d="M318,132 Q326,135 334,134"/><path d="M295,125.8 L311,125.8 M297.5,123 L306.9,139.2 M315,119 L305.5,139.2 M316.3,117.7 L316.3,136.5" stroke="#333" stroke-width="1.5"/><path d="M327,89 Q330,88 331,94 L330,100"/><path d="M312,141 Q322,144 330,141"/></g>
<g stroke="#5e5e5e" stroke-width="0.8" fill="none" opacity="0.8"><path d="M340,104 L344,110 M336,128 L342,132 M330,136 L336,140 M320,100 L318,108 M328,108 L330,116 M300,130 L292,128"/></g>
<path d="M334.0,159.0 L359.5,178.0" stroke="#8a8a8a" stroke-width="5.5" stroke-linecap="round" opacity="0.55"/>
<g stroke="#2e2e2e" stroke-width="1.6" stroke-linecap="round">
<path d="M335.0,163.2 Q336.4,160.8 335.8,156.9" fill="none"/>
<path d="M337.9,165.4 Q339.2,162.9 338.6,159.0" fill="none"/>
<path d="M340.7,167.5 Q342.0,165.0 341.5,161.1" fill="none"/>
<path d="M343.5,169.6 Q344.9,167.1 344.3,163.2" fill="none"/>
<path d="M346.4,171.7 Q347.7,169.2 347.1,165.3" fill="none"/>
<path d="M349.2,173.8 Q350.5,171.3 350.0,167.4" fill="none"/>
<path d="M352.0,175.9 Q353.4,173.4 352.8,169.5" fill="none"/>
<path d="M354.9,178.0 Q356.2,175.6 355.6,171.6" fill="none"/>
<path d="M357.7,180.1 Q359.0,177.7 358.5,173.8" fill="none"/>
</g>
<circle cx="302.6" cy="119.8" r="2.2" fill="none" stroke="#3a3a3a" stroke-width="1.2"/>
<line x1="264.5" y1="81.2" x2="297.8" y2="98.3" stroke="#3a3a3a" stroke-width="1.1" stroke-dasharray="2.4,1.6"/>
<line x1="263.5" y1="128.2" x2="297.8" y2="113.1" stroke="#3a3a3a" stroke-width="1.1" stroke-dasharray="2.4,1.6"/>
<circle cx="303.2" cy="104.2" r="6.4" fill="#e2e4ee" stroke="#4a4e60" stroke-width="1.1"/>
<circle cx="305.8" cy="104.2" r="3.2" fill="#e87a86" opacity="0.8" filter="url(#bl3)"/>
<path d="M298.5,105 Q301,101 303.5,103 Q302.5,106 305.5,101.5" stroke="#2a3a9a" stroke-width="1.1" fill="none"/>
<g clip-path="url(#cc)">
<rect x="210" y="72" width="68" height="66" fill="#f2f2f2"/>
<path d="M205,96 Q211,92 216,93 Q222,89 228,90 Q233,86 236,87 Q238,81 244,79 Q252,77 258,81 Q264,83 266,87 Q271,89 272,95 L276,97 L276,114 Q272,118 271,123 Q267,127 263,127 Q261,133 257,138 L205,140 Z" fill="#c2c2c2" filter="url(#bl)"/>
<path d="M214,98 Q222,95 230,96 Q238,95 244,90" stroke="#d4d4d4" stroke-width="3" fill="none" filter="url(#bl)"/>
<path d="M214,126 Q216,132 222,134" stroke="#dcdcdc" stroke-width="3" fill="none" filter="url(#bl)"/>
<path d="M228,120 Q236,122 246,126 Q252,128 256,127" stroke="#cfcfcf" stroke-width="3" fill="none" filter="url(#bl)"/>
<path d="M266,84 L278,84 L278,112 Q272,110 269,104 Q266,96 266,84 Z" fill="#eeeeee" filter="url(#bl)"/>
<path d="M264,118 Q270,115 278,116 L278,138 L258,138 Q262,128 264,118 Z" fill="#efefef" filter="url(#bl)"/>
<circle cx="255.5" cy="105" r="9" fill="#ff4646" opacity="0.6" filter="url(#bl2)"/>
<g stroke="#404040" stroke-width="2.1" fill="none" stroke-linecap="round"><path d="M212,116 Q215,108 219.7,104.2 Q222,100 227.3,98.5 Q232,97.8 238,100.4"/><path d="M215.8,112.9 Q219,109 222.5,108 Q226,107.5 228.3,109.5 Q231,112 233.1,114.8 Q235,117.5 237,117.2 Q240,116.5 242.7,111"/><path d="M216.8,113.8 Q218,118 220.6,120.6 Q224,124 227.3,125.4 Q231,126.5 233.1,127.3 Q237,129 239.8,132.1 Q241.5,134 243,137"/><path d="M211,124 Q215,127 219,128.5"/></g>
<g stroke="#7a7a7a" stroke-width="0.6" fill="none" stroke-linecap="round" opacity="0.8"><path d="M212,116 Q215,108 219.7,104.2 Q222,100 227.3,98.5 Q232,97.8 238,100.4"/><path d="M215.8,112.9 Q219,109 222.5,108 Q226,107.5 228.3,109.5 Q231,112 233.1,114.8 Q235,117.5 237,117.2 Q240,116.5 242.7,111"/><path d="M216.8,113.8 Q218,118 220.6,120.6 Q224,124 227.3,125.4 Q231,126.5 233.1,127.3 Q237,129 239.8,132.1 Q241.5,134 243,137"/><path d="M211,124 Q215,127 219,128.5"/></g>
<g stroke="#1c2790" fill="none" stroke-linecap="round" stroke-linejoin="round"><path d="M236,101.8 L247.5,100.6" stroke-width="2.5"/><path d="M243.6,89.8 L247.5,100.4" stroke-width="2.3"/><path d="M247.5,100.4 L252.3,93.7" stroke-width="1.8"/><path d="M243.6,89.8 L244.5,99" stroke-width="1.6"/></g>
<path d="M244.7,106.6 L251.4,105.7" stroke="#e8a040" stroke-width="1.8" stroke-linecap="round"/>
<path d="M251.4,105.7 L256.4,104.6" stroke="#dd1818" stroke-width="2" stroke-linecap="round"/>
<circle cx="242.8" cy="105.8" r="0.9" fill="#9ad0a0"/>
</g>
<circle cx="243" cy="104.4" r="30.6" fill="none" stroke="#4a4a4a" stroke-width="1"/>
<line x1="242.70" y1="71.80" x2="242.70" y2="85.50" stroke="#1e1e1e" stroke-width="1.3"/>
<text x="388.60" y="15.50" font-size="10.2" font-weight="bold" fill="#000" stroke="#000" stroke-width="0.3">B</text>
<line x1="420.30" y1="39.20" x2="420.30" y2="129.80" stroke="#1c1c1c" stroke-width="1.1"/>
<line x1="419.80" y1="129.30" x2="513.80" y2="129.30" stroke="#1c1c1c" stroke-width="1.1"/>
<line x1="417.10" y1="129.30" x2="420.30" y2="129.30" stroke="#1c1c1c" stroke-width="1"/>
<text x="414.00" y="132.00" font-size="7.5" text-anchor="end" fill="#1e1e1e" stroke="#1e1e1e" stroke-width="0.14">0</text>
<line x1="417.10" y1="114.72" x2="420.30" y2="114.72" stroke="#1c1c1c" stroke-width="1"/>
<text x="414.00" y="117.42" font-size="7.5" text-anchor="end" fill="#1e1e1e" stroke="#1e1e1e" stroke-width="0.14">20</text>
<line x1="417.10" y1="100.14" x2="420.30" y2="100.14" stroke="#1c1c1c" stroke-width="1"/>
<text x="414.00" y="102.84" font-size="7.5" text-anchor="end" fill="#1e1e1e" stroke="#1e1e1e" stroke-width="0.14">40</text>
<line x1="417.10" y1="85.56" x2="420.30" y2="85.56" stroke="#1c1c1c" stroke-width="1"/>
<text x="414.00" y="88.26" font-size="7.5" text-anchor="end" fill="#1e1e1e" stroke="#1e1e1e" stroke-width="0.14">60</text>
<line x1="417.10" y1="70.98" x2="420.30" y2="70.98" stroke="#1c1c1c" stroke-width="1"/>
<text x="414.00" y="73.68" font-size="7.5" text-anchor="end" fill="#1e1e1e" stroke="#1e1e1e" stroke-width="0.14">80</text>
<line x1="417.10" y1="56.40" x2="420.30" y2="56.40" stroke="#1c1c1c" stroke-width="1"/>
<text x="414.00" y="59.10" font-size="7.5" text-anchor="end" fill="#1e1e1e" stroke="#1e1e1e" stroke-width="0.14">100</text>
<line x1="417.10" y1="41.82" x2="420.30" y2="41.82" stroke="#1c1c1c" stroke-width="1"/>
<text x="414.00" y="44.52" font-size="7.5" text-anchor="end" fill="#1e1e1e" stroke="#1e1e1e" stroke-width="0.14">120</text>
<line x1="441.70" y1="129.30" x2="441.70" y2="131.30" stroke="#1c1c1c" stroke-width="0.9"/>
<line x1="491.50" y1="129.30" x2="491.50" y2="131.30" stroke="#1c1c1c" stroke-width="0.9"/>
<text transform="translate(392.30,84.30) rotate(-90)" x="0" y="0" font-size="8" font-weight="bold" text-anchor="middle" fill="#1e1e1e" textLength="22.9" lengthAdjust="spacingAndGlyphs" dy="2.88">HbF (%)</text>
<path d="M432.50,129.00 L426.20,129.00 L426.10,127.00 L426.90,125.00 L429.30,123.20 L430.30,121.50 L430.80,119.00 L431.30,117.20 L433.70,117.20 L434.20,119.00 L434.70,121.50 L435.70,123.20 L438.10,125.00 L438.90,127.00 L438.80,129.00 Z" fill="#1c5878" stroke="#1c5878" stroke-width="1.2" stroke-linejoin="round"/>
<circle cx="432.62" cy="120.55" r="0.45" fill="#54a0c4"/>
<circle cx="432.13" cy="120.75" r="0.55" fill="#0e2c40"/>
<circle cx="428.51" cy="124.70" r="0.45" fill="#54a0c4"/>
<circle cx="428.03" cy="125.37" r="0.55" fill="#0e2c40"/>
<circle cx="431.73" cy="120.78" r="0.45" fill="#54a0c4"/>
<circle cx="433.94" cy="120.72" r="0.55" fill="#0e2c40"/>
<circle cx="432.23" cy="126.95" r="0.45" fill="#54a0c4"/>
<circle cx="434.11" cy="126.25" r="0.55" fill="#0e2c40"/>
<circle cx="435.98" cy="124.79" r="0.45" fill="#54a0c4"/>
<circle cx="432.72" cy="125.28" r="0.55" fill="#0e2c40"/>
<circle cx="428.08" cy="125.18" r="0.45" fill="#54a0c4"/>
<circle cx="435.12" cy="125.37" r="0.55" fill="#0e2c40"/>
<circle cx="431.05" cy="121.22" r="0.45" fill="#54a0c4"/>
<circle cx="433.63" cy="121.17" r="0.55" fill="#0e2c40"/>
<circle cx="436.50" cy="125.69" r="0.45" fill="#54a0c4"/>
<circle cx="434.76" cy="126.53" r="0.55" fill="#0e2c40"/>
<circle cx="433.72" cy="122.23" r="0.45" fill="#54a0c4"/>
<circle cx="432.28" cy="123.10" r="0.55" fill="#0e2c40"/>
<circle cx="427.85" cy="127.40" r="0.45" fill="#54a0c4"/>
<circle cx="428.29" cy="126.84" r="0.55" fill="#0e2c40"/>
<circle cx="431.77" cy="128.33" r="0.45" fill="#54a0c4"/>
<circle cx="433.95" cy="127.93" r="0.55" fill="#0e2c40"/>
<circle cx="431.84" cy="123.43" r="0.45" fill="#54a0c4"/>
<circle cx="431.63" cy="123.60" r="0.55" fill="#0e2c40"/>
<circle cx="435.74" cy="124.25" r="0.45" fill="#54a0c4"/>
<circle cx="433.96" cy="125.11" r="0.55" fill="#0e2c40"/>
<circle cx="438.19" cy="127.16" r="0.45" fill="#54a0c4"/>
<circle cx="434.48" cy="126.49" r="0.55" fill="#0e2c40"/>
<circle cx="437.88" cy="127.21" r="0.45" fill="#54a0c4"/>
<circle cx="437.19" cy="127.35" r="0.55" fill="#0e2c40"/>
<circle cx="429.46" cy="125.64" r="0.45" fill="#54a0c4"/>
<circle cx="435.99" cy="125.78" r="0.55" fill="#0e2c40"/>
<circle cx="431.18" cy="121.05" r="0.45" fill="#54a0c4"/>
<circle cx="433.57" cy="122.03" r="0.55" fill="#0e2c40"/>
<circle cx="433.15" cy="118.95" r="0.45" fill="#54a0c4"/>
<circle cx="432.31" cy="118.25" r="0.55" fill="#0e2c40"/>
<circle cx="433.32" cy="121.14" r="0.45" fill="#54a0c4"/>
<circle cx="433.64" cy="120.23" r="0.55" fill="#0e2c40"/>
<circle cx="428.46" cy="124.58" r="0.45" fill="#54a0c4"/>
<circle cx="434.44" cy="124.24" r="0.55" fill="#0e2c40"/>
<circle cx="438.05" cy="127.43" r="0.45" fill="#54a0c4"/>
<circle cx="432.56" cy="128.42" r="0.55" fill="#0e2c40"/>
<circle cx="431.18" cy="121.31" r="0.45" fill="#54a0c4"/>
<circle cx="432.81" cy="120.38" r="0.55" fill="#0e2c40"/>
<circle cx="432.26" cy="120.11" r="0.45" fill="#54a0c4"/>
<circle cx="432.79" cy="119.42" r="0.55" fill="#0e2c40"/>
<circle cx="433.20" cy="118.45" r="0.45" fill="#54a0c4"/>
<circle cx="432.15" cy="119.37" r="0.55" fill="#0e2c40"/>
<circle cx="431.09" cy="127.59" r="0.45" fill="#54a0c4"/>
<circle cx="432.04" cy="127.63" r="0.55" fill="#0e2c40"/>
<path d="M451.30,129.00 L445.10,129.00 L445.70,127.00 L447.10,125.00 L448.50,123.00 L449.30,120.50 L450.10,118.20 L452.50,118.20 L453.30,120.50 L454.10,123.00 L455.50,125.00 L456.90,127.00 L457.50,129.00 Z" fill="#821428" stroke="#821428" stroke-width="1.2" stroke-linejoin="round"/>
<circle cx="452.02" cy="125.25" r="0.45" fill="#bb4a5c"/>
<circle cx="451.75" cy="125.49" r="0.55" fill="#4a0812"/>
<circle cx="451.38" cy="128.12" r="0.45" fill="#bb4a5c"/>
<circle cx="450.57" cy="128.56" r="0.55" fill="#4a0812"/>
<circle cx="450.64" cy="121.31" r="0.45" fill="#bb4a5c"/>
<circle cx="452.88" cy="121.35" r="0.55" fill="#4a0812"/>
<circle cx="448.25" cy="124.32" r="0.45" fill="#bb4a5c"/>
<circle cx="450.77" cy="124.48" r="0.55" fill="#4a0812"/>
<circle cx="451.52" cy="119.19" r="0.45" fill="#bb4a5c"/>
<circle cx="451.55" cy="118.31" r="0.55" fill="#4a0812"/>
<circle cx="451.05" cy="125.09" r="0.45" fill="#bb4a5c"/>
<circle cx="452.61" cy="124.79" r="0.55" fill="#4a0812"/>
<circle cx="453.30" cy="125.86" r="0.45" fill="#bb4a5c"/>
<circle cx="447.29" cy="124.98" r="0.55" fill="#4a0812"/>
<circle cx="455.00" cy="125.56" r="0.45" fill="#bb4a5c"/>
<circle cx="449.31" cy="125.47" r="0.55" fill="#4a0812"/>
<circle cx="450.07" cy="124.75" r="0.45" fill="#bb4a5c"/>
<circle cx="450.37" cy="124.37" r="0.55" fill="#4a0812"/>
<circle cx="451.70" cy="122.58" r="0.45" fill="#bb4a5c"/>
<circle cx="450.48" cy="122.34" r="0.55" fill="#4a0812"/>
<circle cx="446.91" cy="126.49" r="0.45" fill="#bb4a5c"/>
<circle cx="451.94" cy="126.96" r="0.55" fill="#4a0812"/>
<circle cx="450.26" cy="122.01" r="0.45" fill="#bb4a5c"/>
<circle cx="452.44" cy="121.48" r="0.55" fill="#4a0812"/>
<circle cx="451.11" cy="120.82" r="0.45" fill="#bb4a5c"/>
<circle cx="451.89" cy="120.02" r="0.55" fill="#4a0812"/>
<circle cx="450.66" cy="122.12" r="0.45" fill="#bb4a5c"/>
<circle cx="452.58" cy="122.00" r="0.55" fill="#4a0812"/>
<path d="M482.30,129.00 L476.20,129.00 L476.30,127.00 L476.50,124.00 L476.90,121.00 L477.80,118.00 L478.80,115.00 L479.40,112.00 L479.10,110.00 L478.90,108.00 L480.30,106.00 L480.80,104.00 L480.70,102.00 L481.20,100.40 L483.40,100.40 L483.90,102.00 L483.80,104.00 L484.30,106.00 L485.70,108.00 L485.50,110.00 L485.20,112.00 L485.80,115.00 L486.80,118.00 L487.70,121.00 L488.10,124.00 L488.30,127.00 L488.40,129.00 Z" fill="#1c5878" stroke="#1c5878" stroke-width="1.2" stroke-linejoin="round"/>
<circle cx="478.83" cy="124.73" r="0.45" fill="#54a0c4"/>
<circle cx="480.59" cy="125.03" r="0.55" fill="#0e2c40"/>
<circle cx="481.78" cy="125.53" r="0.45" fill="#54a0c4"/>
<circle cx="479.38" cy="124.78" r="0.55" fill="#0e2c40"/>
<circle cx="480.35" cy="115.76" r="0.45" fill="#54a0c4"/>
<circle cx="484.24" cy="116.44" r="0.55" fill="#0e2c40"/>
<circle cx="481.60" cy="106.25" r="0.45" fill="#54a0c4"/>
<circle cx="483.27" cy="106.53" r="0.55" fill="#0e2c40"/>
<circle cx="480.72" cy="123.37" r="0.45" fill="#54a0c4"/>
<circle cx="478.51" cy="122.96" r="0.55" fill="#0e2c40"/>
<circle cx="479.98" cy="123.03" r="0.45" fill="#54a0c4"/>
<circle cx="480.74" cy="122.87" r="0.55" fill="#0e2c40"/>
<circle cx="481.86" cy="112.74" r="0.45" fill="#54a0c4"/>
<circle cx="484.36" cy="112.06" r="0.55" fill="#0e2c40"/>
<circle cx="483.00" cy="101.33" r="0.45" fill="#54a0c4"/>
<circle cx="482.90" cy="102.30" r="0.55" fill="#0e2c40"/>
<circle cx="484.58" cy="113.14" r="0.45" fill="#54a0c4"/>
<circle cx="484.46" cy="112.59" r="0.55" fill="#0e2c40"/>
<circle cx="485.60" cy="121.70" r="0.45" fill="#54a0c4"/>
<circle cx="483.90" cy="121.74" r="0.55" fill="#0e2c40"/>
<circle cx="481.45" cy="109.15" r="0.45" fill="#54a0c4"/>
<circle cx="480.84" cy="108.28" r="0.55" fill="#0e2c40"/>
<circle cx="480.73" cy="117.39" r="0.45" fill="#54a0c4"/>
<circle cx="484.59" cy="116.48" r="0.55" fill="#0e2c40"/>
<circle cx="484.37" cy="126.05" r="0.45" fill="#54a0c4"/>
<circle cx="486.82" cy="126.84" r="0.55" fill="#0e2c40"/>
<circle cx="483.12" cy="125.94" r="0.45" fill="#54a0c4"/>
<circle cx="477.11" cy="126.43" r="0.55" fill="#0e2c40"/>
<circle cx="481.75" cy="105.93" r="0.45" fill="#54a0c4"/>
<circle cx="482.75" cy="105.98" r="0.55" fill="#0e2c40"/>
<circle cx="484.42" cy="112.58" r="0.45" fill="#54a0c4"/>
<circle cx="482.84" cy="112.26" r="0.55" fill="#0e2c40"/>
<circle cx="484.31" cy="108.14" r="0.45" fill="#54a0c4"/>
<circle cx="482.17" cy="108.71" r="0.55" fill="#0e2c40"/>
<circle cx="480.81" cy="110.88" r="0.45" fill="#54a0c4"/>
<circle cx="482.47" cy="111.51" r="0.55" fill="#0e2c40"/>
<circle cx="483.10" cy="105.91" r="0.45" fill="#54a0c4"/>
<circle cx="483.46" cy="106.52" r="0.55" fill="#0e2c40"/>
<circle cx="477.20" cy="123.85" r="0.45" fill="#54a0c4"/>
<circle cx="483.63" cy="124.57" r="0.55" fill="#0e2c40"/>
<circle cx="481.86" cy="102.57" r="0.45" fill="#54a0c4"/>
<circle cx="481.85" cy="102.63" r="0.55" fill="#0e2c40"/>
<circle cx="482.17" cy="112.83" r="0.45" fill="#54a0c4"/>
<circle cx="483.66" cy="111.84" r="0.55" fill="#0e2c40"/>
<circle cx="481.58" cy="102.71" r="0.45" fill="#54a0c4"/>
<circle cx="481.58" cy="101.84" r="0.55" fill="#0e2c40"/>
<circle cx="486.16" cy="128.00" r="0.45" fill="#54a0c4"/>
<circle cx="477.79" cy="128.01" r="0.55" fill="#0e2c40"/>
<circle cx="481.33" cy="109.89" r="0.45" fill="#54a0c4"/>
<circle cx="481.52" cy="110.18" r="0.55" fill="#0e2c40"/>
<circle cx="481.28" cy="117.33" r="0.45" fill="#54a0c4"/>
<circle cx="480.03" cy="116.99" r="0.55" fill="#0e2c40"/>
<circle cx="482.42" cy="104.60" r="0.45" fill="#54a0c4"/>
<circle cx="482.75" cy="104.36" r="0.55" fill="#0e2c40"/>
<circle cx="481.70" cy="103.40" r="0.45" fill="#54a0c4"/>
<circle cx="482.06" cy="103.61" r="0.55" fill="#0e2c40"/>
<circle cx="481.10" cy="122.72" r="0.45" fill="#54a0c4"/>
<circle cx="485.33" cy="122.97" r="0.55" fill="#0e2c40"/>
<circle cx="481.66" cy="113.07" r="0.45" fill="#54a0c4"/>
<circle cx="482.28" cy="113.47" r="0.55" fill="#0e2c40"/>
<circle cx="483.25" cy="112.76" r="0.45" fill="#54a0c4"/>
<circle cx="482.11" cy="112.25" r="0.55" fill="#0e2c40"/>
<circle cx="483.55" cy="115.94" r="0.45" fill="#54a0c4"/>
<circle cx="479.55" cy="115.79" r="0.55" fill="#0e2c40"/>
<circle cx="484.18" cy="112.91" r="0.45" fill="#54a0c4"/>
<circle cx="484.47" cy="112.66" r="0.55" fill="#0e2c40"/>
<circle cx="485.40" cy="125.89" r="0.45" fill="#54a0c4"/>
<circle cx="479.77" cy="125.82" r="0.55" fill="#0e2c40"/>
<circle cx="482.96" cy="104.59" r="0.45" fill="#54a0c4"/>
<circle cx="482.64" cy="105.36" r="0.55" fill="#0e2c40"/>
<circle cx="484.00" cy="122.99" r="0.45" fill="#54a0c4"/>
<circle cx="484.67" cy="123.12" r="0.55" fill="#0e2c40"/>
<circle cx="482.46" cy="104.04" r="0.45" fill="#54a0c4"/>
<circle cx="481.40" cy="103.32" r="0.55" fill="#0e2c40"/>
<circle cx="477.74" cy="122.49" r="0.45" fill="#54a0c4"/>
<circle cx="478.22" cy="121.69" r="0.55" fill="#0e2c40"/>
<circle cx="478.90" cy="125.41" r="0.45" fill="#54a0c4"/>
<circle cx="477.25" cy="126.10" r="0.55" fill="#0e2c40"/>
<circle cx="483.01" cy="104.54" r="0.45" fill="#54a0c4"/>
<circle cx="482.66" cy="105.21" r="0.55" fill="#0e2c40"/>
<circle cx="483.16" cy="127.39" r="0.45" fill="#54a0c4"/>
<circle cx="485.54" cy="126.46" r="0.55" fill="#0e2c40"/>
<circle cx="482.41" cy="122.30" r="0.45" fill="#54a0c4"/>
<circle cx="484.44" cy="121.52" r="0.55" fill="#0e2c40"/>
<circle cx="486.56" cy="121.80" r="0.45" fill="#54a0c4"/>
<circle cx="477.99" cy="121.45" r="0.55" fill="#0e2c40"/>
<circle cx="484.58" cy="116.71" r="0.45" fill="#54a0c4"/>
<circle cx="480.51" cy="116.07" r="0.55" fill="#0e2c40"/>
<circle cx="482.95" cy="108.07" r="0.45" fill="#54a0c4"/>
<circle cx="483.72" cy="107.86" r="0.55" fill="#0e2c40"/>
<circle cx="481.80" cy="111.31" r="0.45" fill="#54a0c4"/>
<circle cx="481.58" cy="111.14" r="0.55" fill="#0e2c40"/>
<circle cx="482.30" cy="103.49" r="0.45" fill="#54a0c4"/>
<circle cx="483.18" cy="103.32" r="0.55" fill="#0e2c40"/>
<circle cx="478.97" cy="121.75" r="0.45" fill="#54a0c4"/>
<circle cx="484.17" cy="122.27" r="0.55" fill="#0e2c40"/>
<circle cx="482.45" cy="119.73" r="0.45" fill="#54a0c4"/>
<circle cx="482.16" cy="120.02" r="0.55" fill="#0e2c40"/>
<circle cx="478.57" cy="125.88" r="0.45" fill="#54a0c4"/>
<circle cx="478.00" cy="126.37" r="0.55" fill="#0e2c40"/>
<circle cx="482.48" cy="126.41" r="0.45" fill="#54a0c4"/>
<circle cx="481.69" cy="126.84" r="0.55" fill="#0e2c40"/>
<circle cx="481.55" cy="106.32" r="0.45" fill="#54a0c4"/>
<circle cx="481.32" cy="106.49" r="0.55" fill="#0e2c40"/>
<circle cx="480.90" cy="109.86" r="0.45" fill="#54a0c4"/>
<circle cx="483.30" cy="110.77" r="0.55" fill="#0e2c40"/>
<circle cx="483.39" cy="109.34" r="0.45" fill="#54a0c4"/>
<circle cx="481.84" cy="110.04" r="0.55" fill="#0e2c40"/>
<circle cx="480.60" cy="117.28" r="0.45" fill="#54a0c4"/>
<circle cx="480.23" cy="116.32" r="0.55" fill="#0e2c40"/>
<circle cx="481.65" cy="114.39" r="0.45" fill="#54a0c4"/>
<circle cx="480.48" cy="114.11" r="0.55" fill="#0e2c40"/>
<circle cx="483.72" cy="110.06" r="0.45" fill="#54a0c4"/>
<circle cx="480.45" cy="111.04" r="0.55" fill="#0e2c40"/>
<circle cx="482.85" cy="114.39" r="0.45" fill="#54a0c4"/>
<circle cx="482.12" cy="115.06" r="0.55" fill="#0e2c40"/>
<circle cx="482.89" cy="123.79" r="0.45" fill="#54a0c4"/>
<circle cx="482.11" cy="124.24" r="0.55" fill="#0e2c40"/>
<circle cx="481.25" cy="124.76" r="0.45" fill="#54a0c4"/>
<circle cx="484.75" cy="125.68" r="0.55" fill="#0e2c40"/>
<circle cx="480.83" cy="114.05" r="0.45" fill="#54a0c4"/>
<circle cx="480.86" cy="114.49" r="0.55" fill="#0e2c40"/>
<circle cx="486.37" cy="119.77" r="0.45" fill="#54a0c4"/>
<circle cx="485.44" cy="119.26" r="0.55" fill="#0e2c40"/>
<circle cx="481.48" cy="106.41" r="0.45" fill="#54a0c4"/>
<circle cx="481.24" cy="106.82" r="0.55" fill="#0e2c40"/>
<circle cx="486.50" cy="124.81" r="0.45" fill="#54a0c4"/>
<circle cx="479.73" cy="125.54" r="0.55" fill="#0e2c40"/>
<circle cx="481.90" cy="109.82" r="0.45" fill="#54a0c4"/>
<circle cx="483.50" cy="108.99" r="0.55" fill="#0e2c40"/>
<circle cx="482.91" cy="103.75" r="0.45" fill="#54a0c4"/>
<circle cx="481.92" cy="103.46" r="0.55" fill="#0e2c40"/>
<circle cx="483.57" cy="117.16" r="0.45" fill="#54a0c4"/>
<circle cx="478.73" cy="116.83" r="0.55" fill="#0e2c40"/>
<circle cx="482.23" cy="113.20" r="0.45" fill="#54a0c4"/>
<circle cx="480.83" cy="113.37" r="0.55" fill="#0e2c40"/>
<circle cx="481.12" cy="127.47" r="0.45" fill="#54a0c4"/>
<circle cx="482.78" cy="126.71" r="0.55" fill="#0e2c40"/>
<circle cx="483.20" cy="108.76" r="0.45" fill="#54a0c4"/>
<circle cx="480.19" cy="109.53" r="0.55" fill="#0e2c40"/>
<circle cx="501.10" cy="117.20" r="1.6" fill="#821428" stroke="#5a0a18" stroke-width="0.35"/>
<circle cx="505.50" cy="118.00" r="1.6" fill="#821428" stroke="#5a0a18" stroke-width="0.35"/>
<circle cx="498.10" cy="121.00" r="1.6" fill="#821428" stroke="#5a0a18" stroke-width="0.35"/>
<circle cx="499.80" cy="120.10" r="1.6" fill="#821428" stroke="#5a0a18" stroke-width="0.35"/>
<circle cx="504.20" cy="121.00" r="1.6" fill="#821428" stroke="#5a0a18" stroke-width="0.35"/>
<circle cx="496.80" cy="124.40" r="1.6" fill="#821428" stroke="#5a0a18" stroke-width="0.35"/>
<circle cx="499.40" cy="124.00" r="1.6" fill="#821428" stroke="#5a0a18" stroke-width="0.35"/>
<circle cx="506.30" cy="123.50" r="1.6" fill="#821428" stroke="#5a0a18" stroke-width="0.35"/>
<circle cx="496.00" cy="127.20" r="1.6" fill="#821428" stroke="#5a0a18" stroke-width="0.35"/>
<circle cx="498.50" cy="127.20" r="1.6" fill="#821428" stroke="#5a0a18" stroke-width="0.35"/>
<circle cx="501.10" cy="127.50" r="1.6" fill="#821428" stroke="#5a0a18" stroke-width="0.35"/>
<circle cx="503.70" cy="126.70" r="1.6" fill="#821428" stroke="#5a0a18" stroke-width="0.35"/>
<circle cx="505.50" cy="127.20" r="1.6" fill="#821428" stroke="#5a0a18" stroke-width="0.35"/>
<circle cx="507.20" cy="126.60" r="1.6" fill="#821428" stroke="#5a0a18" stroke-width="0.35"/>
<circle cx="494.80" cy="127.60" r="1.6" fill="#821428" stroke="#5a0a18" stroke-width="0.35"/>
<circle cx="502.60" cy="128.00" r="1.6" fill="#821428" stroke="#5a0a18" stroke-width="0.35"/>
<circle cx="502.6" cy="124.6" r="0.9" fill="#f4d0d4"/>
<path d="M432.6,113.3 L432.6,92.5 L451.3,92.5 L451.3,113.3" fill="none" stroke="#3a3a3a" stroke-width="0.9"/>
<path d="M432.6,79.7 L432.6,71.6 L482.4,71.6 L482.4,72.8" fill="none" stroke="#3a3a3a" stroke-width="0.9"/>
<path d="M451.2,58.8 L451.2,54.1 L500.8,54.1 L500.8,73.8" fill="none" stroke="#3a3a3a" stroke-width="0.9"/>
<path d="M482.3,96.3 L482.3,85.8 L500.6,85.8 L500.6,111.6" fill="none" stroke="#3a3a3a" stroke-width="0.9"/>
<text x="425.40" y="89.10" font-size="7.3" fill="#1e1e1e" stroke="#1e1e1e" stroke-width="0.14" textLength="33" lengthAdjust="spacingAndGlyphs"><tspan font-style="italic">P</tspan> = .9836</text>
<text x="441.50" y="68.20" font-size="7.3" fill="#1e1e1e" stroke="#1e1e1e" stroke-width="0.14" textLength="31" lengthAdjust="spacingAndGlyphs"><tspan font-style="italic">P</tspan> &lt; .0001</text>
<text x="460.10" y="50.90" font-size="7.3" fill="#1e1e1e" stroke="#1e1e1e" stroke-width="0.14" textLength="32.3" lengthAdjust="spacingAndGlyphs"><tspan font-style="italic">P</tspan> = .0758</text>
<text x="475.20" y="81.90" font-size="7.3" fill="#1e1e1e" stroke="#1e1e1e" stroke-width="0.14" textLength="32.5" lengthAdjust="spacingAndGlyphs"><tspan font-style="italic">P</tspan> = .0142</text>
<text x="413.40" y="141.60" font-size="7.5" textLength="25.6" lengthAdjust="spacingAndGlyphs" fill="#1e1e1e" stroke="#1e1e1e" stroke-width="0.14">n = 294</text>
<text x="451.40" y="141.60" font-size="7.3" text-anchor="middle" textLength="8.8" lengthAdjust="spacingAndGlyphs" fill="#1e1e1e" stroke="#1e1e1e" stroke-width="0.14">36</text>
<text x="482.10" y="141.60" font-size="7.3" text-anchor="middle" textLength="12.6" lengthAdjust="spacingAndGlyphs" fill="#1e1e1e" stroke="#1e1e1e" stroke-width="0.14">186</text>
<text x="501.00" y="141.60" font-size="7.3" text-anchor="middle" textLength="8.4" lengthAdjust="spacingAndGlyphs" fill="#1e1e1e" stroke="#1e1e1e" stroke-width="0.14">16</text>
<line x1="425.70" y1="146.40" x2="462.30" y2="146.40" stroke="#333" stroke-width="0.9"/>
<line x1="473.50" y1="146.40" x2="509.80" y2="146.40" stroke="#333" stroke-width="0.9"/>
<text x="434.00" y="155.6" font-size="7.3" fill="#1e1e1e" stroke="#1e1e1e" stroke-width="0.14">HU<tspan font-size="4.8" dy="-3">neg</tspan></text>
<text x="481.90" y="155.6" font-size="7.3" fill="#1e1e1e" stroke="#1e1e1e" stroke-width="0.14">HU<tspan font-size="4.8" dy="-3">pos</tspan></text>
<circle cx="441.6" cy="164.4" r="1.9" fill="#1c5878" stroke="#54a0c4" stroke-width="0.5"/>
<text x="446.20" y="167.00" font-size="7.6" textLength="23.4" lengthAdjust="spacingAndGlyphs" fill="#1e1e1e" stroke="#1e1e1e" stroke-width="0.14">CC/CG</text>
<circle cx="478.0" cy="164.3" r="1.9" fill="#821428"/>
<text x="482.70" y="167.00" font-size="7.6" textLength="11.5" lengthAdjust="spacingAndGlyphs" fill="#1e1e1e" stroke="#1e1e1e" stroke-width="0.14">GG</text>
<text x="7.20" y="215.60" font-size="10.2" font-weight="bold" fill="#000" stroke="#000" stroke-width="0.3">C</text>
<line x1="52.30" y1="223.45" x2="52.30" y2="295.20" stroke="#1c1c1c" stroke-width="1.1"/>
<line x1="51.80" y1="294.70" x2="159.60" y2="294.70" stroke="#1c1c1c" stroke-width="1.1"/>
<line x1="49.10" y1="294.70" x2="52.30" y2="294.70" stroke="#1c1c1c" stroke-width="1"/>
<text x="47.00" y="297.40" font-size="7.5" text-anchor="end" fill="#1e1e1e" stroke="#1e1e1e" stroke-width="0.14">0</text>
<line x1="49.10" y1="280.85" x2="52.30" y2="280.85" stroke="#1c1c1c" stroke-width="1"/>
<text x="47.00" y="283.55" font-size="7.5" text-anchor="end" fill="#1e1e1e" stroke="#1e1e1e" stroke-width="0.14">10</text>
<line x1="49.10" y1="267.00" x2="52.30" y2="267.00" stroke="#1c1c1c" stroke-width="1"/>
<text x="47.00" y="269.70" font-size="7.5" text-anchor="end" fill="#1e1e1e" stroke="#1e1e1e" stroke-width="0.14">20</text>
<line x1="49.10" y1="253.15" x2="52.30" y2="253.15" stroke="#1c1c1c" stroke-width="1"/>
<text x="47.00" y="255.85" font-size="7.5" text-anchor="end" fill="#1e1e1e" stroke="#1e1e1e" stroke-width="0.14">30</text>
<line x1="49.10" y1="239.30" x2="52.30" y2="239.30" stroke="#1c1c1c" stroke-width="1"/>
<text x="47.00" y="242.00" font-size="7.5" text-anchor="end" fill="#1e1e1e" stroke="#1e1e1e" stroke-width="0.14">40</text>
<line x1="49.10" y1="225.45" x2="52.30" y2="225.45" stroke="#1c1c1c" stroke-width="1"/>
<text x="47.00" y="228.15" font-size="7.5" text-anchor="end" fill="#1e1e1e" stroke="#1e1e1e" stroke-width="0.14">50</text>
<line x1="52.30" y1="294.70" x2="52.30" y2="297.30" stroke="#1c1c1c" stroke-width="1"/>
<text x="52.30" y="306.90" font-size="7.5" text-anchor="middle" fill="#1e1e1e" stroke="#1e1e1e" stroke-width="0.14">0</text>
<line x1="78.38" y1="294.70" x2="78.38" y2="297.30" stroke="#1c1c1c" stroke-width="1"/>
<text x="78.38" y="306.90" font-size="7.5" text-anchor="middle" fill="#1e1e1e" stroke="#1e1e1e" stroke-width="0.14">5</text>
<line x1="104.45" y1="294.70" x2="104.45" y2="297.30" stroke="#1c1c1c" stroke-width="1"/>
<text x="104.45" y="306.90" font-size="7.5" text-anchor="middle" fill="#1e1e1e" stroke="#1e1e1e" stroke-width="0.14">10</text>
<line x1="130.52" y1="294.70" x2="130.52" y2="297.30" stroke="#1c1c1c" stroke-width="1"/>
<text x="130.52" y="306.90" font-size="7.5" text-anchor="middle" fill="#1e1e1e" stroke="#1e1e1e" stroke-width="0.14">15</text>
<line x1="156.60" y1="294.70" x2="156.60" y2="297.30" stroke="#1c1c1c" stroke-width="1"/>
<text x="156.60" y="306.90" font-size="7.5" text-anchor="middle" fill="#1e1e1e" stroke="#1e1e1e" stroke-width="0.14">20</text>
<line x1="57.52" y1="294.70" x2="57.52" y2="296.20" stroke="#1c1c1c" stroke-width="0.8"/>
<line x1="62.73" y1="294.70" x2="62.73" y2="296.20" stroke="#1c1c1c" stroke-width="0.8"/>
<line x1="67.94" y1="294.70" x2="67.94" y2="296.20" stroke="#1c1c1c" stroke-width="0.8"/>
<line x1="73.16" y1="294.70" x2="73.16" y2="296.20" stroke="#1c1c1c" stroke-width="0.8"/>
<line x1="83.59" y1="294.70" x2="83.59" y2="296.20" stroke="#1c1c1c" stroke-width="0.8"/>
<line x1="88.80" y1="294.70" x2="88.80" y2="296.20" stroke="#1c1c1c" stroke-width="0.8"/>
<line x1="94.02" y1="294.70" x2="94.02" y2="296.20" stroke="#1c1c1c" stroke-width="0.8"/>
<line x1="99.23" y1="294.70" x2="99.23" y2="296.20" stroke="#1c1c1c" stroke-width="0.8"/>
<line x1="109.66" y1="294.70" x2="109.66" y2="296.20" stroke="#1c1c1c" stroke-width="0.8"/>
<line x1="114.88" y1="294.70" x2="114.88" y2="296.20" stroke="#1c1c1c" stroke-width="0.8"/>
<line x1="120.09" y1="294.70" x2="120.09" y2="296.20" stroke="#1c1c1c" stroke-width="0.8"/>
<line x1="125.31" y1="294.70" x2="125.31" y2="296.20" stroke="#1c1c1c" stroke-width="0.8"/>
<line x1="135.74" y1="294.70" x2="135.74" y2="296.20" stroke="#1c1c1c" stroke-width="0.8"/>
<line x1="140.95" y1="294.70" x2="140.95" y2="296.20" stroke="#1c1c1c" stroke-width="0.8"/>
<line x1="146.17" y1="294.70" x2="146.17" y2="296.20" stroke="#1c1c1c" stroke-width="0.8"/>
<line x1="151.38" y1="294.70" x2="151.38" y2="296.20" stroke="#1c1c1c" stroke-width="0.8"/>
<path d="M52.30,254.26 L56.65,254.68 L60.99,255.09 L65.34,255.47 L69.68,255.81 L74.03,256.12 L78.38,256.37 L82.72,256.58 L87.07,256.77 L91.41,256.93 L95.76,257.07 L100.10,257.21 L104.45,257.33 L108.80,257.46 L113.14,257.58 L117.49,257.69 L121.83,257.81 L126.18,257.92 L130.52,258.03 L134.87,258.14 L139.22,258.25 L143.56,258.36 L147.91,258.47 L152.25,258.58 L156.60,258.69 L156.60,265.89 L152.25,265.42 L147.91,264.95 L143.56,264.49 L139.22,264.02 L134.87,263.55 L130.52,263.09 L126.18,262.62 L121.83,262.16 L117.49,261.70 L113.14,261.23 L108.80,260.78 L104.45,260.32 L100.10,259.87 L95.76,259.43 L91.41,259.00 L87.07,258.58 L82.72,258.19 L78.38,257.82 L74.03,257.50 L69.68,257.23 L65.34,257.00 L60.99,256.80 L56.65,256.63 L52.30,256.47 Z" fill="#8aa2da" opacity="0.55"/>
<path d="M52.30,254.26 L56.65,254.68 L60.99,255.09 L65.34,255.47 L69.68,255.81 L74.03,256.12 L78.38,256.37 L82.72,256.58 L87.07,256.77 L91.41,256.93 L95.76,257.07 L100.10,257.21 L104.45,257.33 L108.80,257.46 L113.14,257.58 L117.49,257.69 L121.83,257.81 L126.18,257.92 L130.52,258.03 L134.87,258.14 L139.22,258.25 L143.56,258.36 L147.91,258.47 L152.25,258.58 L156.60,258.69" fill="none" stroke="#1f3868" stroke-width="0.4" opacity="0.35"/>
<path d="M52.30,256.47 L56.65,256.63 L60.99,256.80 L65.34,257.00 L69.68,257.23 L74.03,257.50 L78.38,257.82 L82.72,258.19 L87.07,258.58 L91.41,259.00 L95.76,259.43 L100.10,259.87 L104.45,260.32 L108.80,260.78 L113.14,261.23 L117.49,261.70 L121.83,262.16 L126.18,262.62 L130.52,263.09 L134.87,263.55 L139.22,264.02 L143.56,264.49 L147.91,264.95 L152.25,265.42 L156.60,265.89" fill="none" stroke="#1f3868" stroke-width="0.4" opacity="0.35"/>
<path d="M52.30,256.20 L56.65,256.28 L60.99,256.36 L65.34,256.44 L69.68,256.51 L74.03,256.58 L78.38,256.63 L82.72,256.68 L87.07,256.72 L91.41,256.75 L95.76,256.77 L100.10,256.77 L104.45,256.75 L108.80,256.72 L113.14,256.67 L117.49,256.61 L121.83,256.54 L126.18,256.45 L130.52,256.36 L134.87,256.25 L139.22,256.14 L143.56,256.02 L147.91,255.90 L152.25,255.77 L156.60,255.64 L156.60,259.52 L152.25,259.44 L147.91,259.36 L143.56,259.28 L139.22,259.21 L134.87,259.14 L130.52,259.08 L126.18,259.03 L121.83,259.00 L117.49,258.97 L113.14,258.95 L108.80,258.95 L104.45,258.97 L100.10,259.00 L95.76,259.04 L91.41,259.11 L87.07,259.18 L82.72,259.27 L78.38,259.36 L74.03,259.47 L69.68,259.58 L65.34,259.70 L60.99,259.82 L56.65,259.94 L52.30,260.07 Z" fill="#ec7a8a" opacity="0.55"/>
<path d="M52.30,256.20 L56.65,256.28 L60.99,256.36 L65.34,256.44 L69.68,256.51 L74.03,256.58 L78.38,256.63 L82.72,256.68 L87.07,256.72 L91.41,256.75 L95.76,256.77 L100.10,256.77 L104.45,256.75 L108.80,256.72 L113.14,256.67 L117.49,256.61 L121.83,256.54 L126.18,256.45 L130.52,256.36 L134.87,256.25 L139.22,256.14 L143.56,256.02 L147.91,255.90 L152.25,255.77 L156.60,255.64" fill="none" stroke="#a81c3a" stroke-width="0.4" opacity="0.35"/>
<path d="M52.30,260.07 L56.65,259.94 L60.99,259.82 L65.34,259.70 L69.68,259.58 L74.03,259.47 L78.38,259.36 L82.72,259.27 L87.07,259.18 L91.41,259.11 L95.76,259.04 L100.10,259.00 L104.45,258.97 L108.80,258.95 L113.14,258.95 L117.49,258.97 L121.83,259.00 L126.18,259.03 L130.52,259.08 L134.87,259.14 L139.22,259.21 L143.56,259.28 L147.91,259.36 L152.25,259.44 L156.60,259.52" fill="none" stroke="#a81c3a" stroke-width="0.4" opacity="0.35"/>
<line x1="52.30" y1="258.14" x2="156.60" y2="257.58" stroke="#a81c3a" stroke-width="1.5"/>
<line x1="52.30" y1="255.37" x2="156.60" y2="262.29" stroke="#1f3868" stroke-width="1.5"/>
<line x1="89.10" y1="253.50" x2="89.10" y2="294.70" stroke="#222" stroke-width="1.25" stroke-dasharray="2.9,2.2"/>
<text x="80.00" y="248.80" font-size="7.3" fill="#1e1e1e" stroke="#1e1e1e" stroke-width="0.14" textLength="32.6" lengthAdjust="spacingAndGlyphs"><tspan font-style="italic">P</tspan> = .0182</text>
<text x="95.50" y="278.00" font-size="7.3" textLength="21" lengthAdjust="spacingAndGlyphs" fill="#1e1e1e" stroke="#1e1e1e" stroke-width="0.14">6.99%</text>
<text x="11.00" y="261.20" font-size="7.6" textLength="11.2" lengthAdjust="spacingAndGlyphs" fill="#1e1e1e" stroke="#1e1e1e" stroke-width="0.14">CC</text>
<text transform="translate(28.20,258.80) rotate(-90)" x="0" y="0" font-size="8" font-weight="bold" text-anchor="middle" fill="#1e1e1e" textLength="22" lengthAdjust="spacingAndGlyphs" dy="2.88">Hct (%)</text>
<text x="106.10" y="319.38" font-size="8" font-weight="bold" text-anchor="middle" fill="#1e1e1e" textLength="17.2" lengthAdjust="spacingAndGlyphs">HbF%</text>
<line x1="77.70" y1="331.30" x2="86.10" y2="331.30" stroke="#27406e" stroke-width="1.2"/>
<text x="89.70" y="333.60" font-size="7" fill="#1e1e1e" stroke="#1e1e1e" stroke-width="0.14" textLength="43.3" lengthAdjust="spacingAndGlyphs">HU<tspan font-size="4.7" dy="-2.8" fill="#2a2a2a" stroke="none">neg</tspan><tspan dy="2.8"> n = 174</tspan></text>
<line x1="77.70" y1="345.10" x2="86.10" y2="345.10" stroke="#c0203e" stroke-width="1.2"/>
<text x="89.70" y="347.40" font-size="7" fill="#1e1e1e" stroke="#1e1e1e" stroke-width="0.14" textLength="43.6" lengthAdjust="spacingAndGlyphs">HU<tspan font-size="4.7" dy="-2.8" fill="#2a2a2a" stroke="none">pos</tspan><tspan dy="2.8"> n = 105</tspan></text>
<text x="176.00" y="215.60" font-size="10.2" font-weight="bold" fill="#000" stroke="#000" stroke-width="0.3">D</text>
<line x1="221.60" y1="223.45" x2="221.60" y2="295.20" stroke="#1c1c1c" stroke-width="1.1"/>
<line x1="221.10" y1="294.70" x2="328.90" y2="294.70" stroke="#1c1c1c" stroke-width="1.1"/>
<line x1="218.40" y1="294.70" x2="221.60" y2="294.70" stroke="#1c1c1c" stroke-width="1"/>
<text x="216.30" y="297.40" font-size="7.5" text-anchor="end" fill="#1e1e1e" stroke="#1e1e1e" stroke-width="0.14">0</text>
<line x1="218.40" y1="280.85" x2="221.60" y2="280.85" stroke="#1c1c1c" stroke-width="1"/>
<text x="216.30" y="283.55" font-size="7.5" text-anchor="end" fill="#1e1e1e" stroke="#1e1e1e" stroke-width="0.14">10</text>
<line x1="218.40" y1="267.00" x2="221.60" y2="267.00" stroke="#1c1c1c" stroke-width="1"/>
<text x="216.30" y="269.70" font-size="7.5" text-anchor="end" fill="#1e1e1e" stroke="#1e1e1e" stroke-width="0.14">20</text>
<line x1="218.40" y1="253.15" x2="221.60" y2="253.15" stroke="#1c1c1c" stroke-width="1"/>
<text x="216.30" y="255.85" font-size="7.5" text-anchor="end" fill="#1e1e1e" stroke="#1e1e1e" stroke-width="0.14">30</text>
<line x1="218.40" y1="239.30" x2="221.60" y2="239.30" stroke="#1c1c1c" stroke-width="1"/>
<text x="216.30" y="242.00" font-size="7.5" text-anchor="end" fill="#1e1e1e" stroke="#1e1e1e" stroke-width="0.14">40</text>
<line x1="218.40" y1="225.45" x2="221.60" y2="225.45" stroke="#1c1c1c" stroke-width="1"/>
<text x="216.30" y="228.15" font-size="7.5" text-anchor="end" fill="#1e1e1e" stroke="#1e1e1e" stroke-width="0.14">50</text>
<line x1="221.60" y1="294.70" x2="221.60" y2="297.30" stroke="#1c1c1c" stroke-width="1"/>
<text x="221.60" y="306.90" font-size="7.5" text-anchor="middle" fill="#1e1e1e" stroke="#1e1e1e" stroke-width="0.14">0</text>
<line x1="247.67" y1="294.70" x2="247.67" y2="297.30" stroke="#1c1c1c" stroke-width="1"/>
<text x="247.67" y="306.90" font-size="7.5" text-anchor="middle" fill="#1e1e1e" stroke="#1e1e1e" stroke-width="0.14">5</text>
<line x1="273.75" y1="294.70" x2="273.75" y2="297.30" stroke="#1c1c1c" stroke-width="1"/>
<text x="273.75" y="306.90" font-size="7.5" text-anchor="middle" fill="#1e1e1e" stroke="#1e1e1e" stroke-width="0.14">10</text>
<line x1="299.82" y1="294.70" x2="299.82" y2="297.30" stroke="#1c1c1c" stroke-width="1"/>
<text x="299.82" y="306.90" font-size="7.5" text-anchor="middle" fill="#1e1e1e" stroke="#1e1e1e" stroke-width="0.14">15</text>
<line x1="325.90" y1="294.70" x2="325.90" y2="297.30" stroke="#1c1c1c" stroke-width="1"/>
<text x="325.90" y="306.90" font-size="7.5" text-anchor="middle" fill="#1e1e1e" stroke="#1e1e1e" stroke-width="0.14">20</text>
<line x1="226.81" y1="294.70" x2="226.81" y2="296.20" stroke="#1c1c1c" stroke-width="0.8"/>
<line x1="232.03" y1="294.70" x2="232.03" y2="296.20" stroke="#1c1c1c" stroke-width="0.8"/>
<line x1="237.25" y1="294.70" x2="237.25" y2="296.20" stroke="#1c1c1c" stroke-width="0.8"/>
<line x1="242.46" y1="294.70" x2="242.46" y2="296.20" stroke="#1c1c1c" stroke-width="0.8"/>
<line x1="252.89" y1="294.70" x2="252.89" y2="296.20" stroke="#1c1c1c" stroke-width="0.8"/>
<line x1="258.11" y1="294.70" x2="258.11" y2="296.20" stroke="#1c1c1c" stroke-width="0.8"/>
<line x1="263.32" y1="294.70" x2="263.32" y2="296.20" stroke="#1c1c1c" stroke-width="0.8"/>
<line x1="268.53" y1="294.70" x2="268.53" y2="296.20" stroke="#1c1c1c" stroke-width="0.8"/>
<line x1="278.96" y1="294.70" x2="278.96" y2="296.20" stroke="#1c1c1c" stroke-width="0.8"/>
<line x1="284.18" y1="294.70" x2="284.18" y2="296.20" stroke="#1c1c1c" stroke-width="0.8"/>
<line x1="289.39" y1="294.70" x2="289.39" y2="296.20" stroke="#1c1c1c" stroke-width="0.8"/>
<line x1="294.61" y1="294.70" x2="294.61" y2="296.20" stroke="#1c1c1c" stroke-width="0.8"/>
<line x1="305.04" y1="294.70" x2="305.04" y2="296.20" stroke="#1c1c1c" stroke-width="0.8"/>
<line x1="310.25" y1="294.70" x2="310.25" y2="296.20" stroke="#1c1c1c" stroke-width="0.8"/>
<line x1="315.47" y1="294.70" x2="315.47" y2="296.20" stroke="#1c1c1c" stroke-width="0.8"/>
<line x1="320.69" y1="294.70" x2="320.69" y2="296.20" stroke="#1c1c1c" stroke-width="0.8"/>
<path d="M221.60,250.80 L225.95,251.81 L230.29,252.81 L234.64,253.78 L238.98,254.70 L243.33,255.55 L247.67,256.30 L252.02,256.95 L256.37,257.53 L260.71,258.05 L265.06,258.54 L269.40,259.00 L273.75,259.45 L278.10,259.88 L282.44,260.30 L286.79,260.72 L291.13,261.14 L295.48,261.55 L299.82,261.96 L304.17,262.36 L308.52,262.76 L312.86,263.17 L317.21,263.57 L321.55,263.97 L325.90,264.37 L325.90,275.17 L321.55,274.20 L317.21,273.22 L312.86,272.25 L308.52,271.28 L304.17,270.31 L299.82,269.34 L295.48,268.38 L291.13,267.42 L286.79,266.46 L282.44,265.50 L278.10,264.55 L273.75,263.61 L269.40,262.68 L265.06,261.77 L260.71,260.88 L256.37,260.04 L252.02,259.24 L247.67,258.52 L243.33,257.89 L238.98,257.37 L234.64,256.92 L230.29,256.52 L225.95,256.14 L221.60,255.78 Z" fill="#8aa2da" opacity="0.55"/>
<path d="M221.60,250.80 L225.95,251.81 L230.29,252.81 L234.64,253.78 L238.98,254.70 L243.33,255.55 L247.67,256.30 L252.02,256.95 L256.37,257.53 L260.71,258.05 L265.06,258.54 L269.40,259.00 L273.75,259.45 L278.10,259.88 L282.44,260.30 L286.79,260.72 L291.13,261.14 L295.48,261.55 L299.82,261.96 L304.17,262.36 L308.52,262.76 L312.86,263.17 L317.21,263.57 L321.55,263.97 L325.90,264.37" fill="none" stroke="#1f3868" stroke-width="0.4" opacity="0.35"/>
<path d="M221.60,255.78 L225.95,256.14 L230.29,256.52 L234.64,256.92 L238.98,257.37 L243.33,257.89 L247.67,258.52 L252.02,259.24 L256.37,260.04 L260.71,260.88 L265.06,261.77 L269.40,262.68 L273.75,263.61 L278.10,264.55 L282.44,265.50 L286.79,266.46 L291.13,267.42 L295.48,268.38 L299.82,269.34 L304.17,270.31 L308.52,271.28 L312.86,272.25 L317.21,273.22 L321.55,274.20 L325.90,275.17" fill="none" stroke="#1f3868" stroke-width="0.4" opacity="0.35"/>
<path d="M226.81,259.24 L230.94,259.20 L235.07,259.15 L239.20,259.10 L243.33,259.05 L247.46,258.99 L251.59,258.92 L255.71,258.84 L259.84,258.75 L263.97,258.65 L268.10,258.54 L272.23,258.41 L276.36,258.27 L280.49,258.11 L284.61,257.93 L288.74,257.73 L292.87,257.52 L297.00,257.28 L301.13,257.03 L305.26,256.78 L309.39,256.51 L313.51,256.23 L317.64,255.95 L321.77,255.66 L325.90,255.37 L325.90,259.80 L321.77,259.83 L317.64,259.86 L313.51,259.90 L309.39,259.95 L305.26,260.00 L301.13,260.07 L297.00,260.14 L292.87,260.23 L288.74,260.34 L284.61,260.46 L280.49,260.61 L276.36,260.77 L272.23,260.95 L268.10,261.15 L263.97,261.36 L259.84,261.58 L255.71,261.82 L251.59,262.06 L247.46,262.32 L243.33,262.58 L239.20,262.85 L235.07,263.12 L230.94,263.40 L226.81,263.68 Z" fill="#ec7a8a" opacity="0.55"/>
<path d="M226.81,259.24 L230.94,259.20 L235.07,259.15 L239.20,259.10 L243.33,259.05 L247.46,258.99 L251.59,258.92 L255.71,258.84 L259.84,258.75 L263.97,258.65 L268.10,258.54 L272.23,258.41 L276.36,258.27 L280.49,258.11 L284.61,257.93 L288.74,257.73 L292.87,257.52 L297.00,257.28 L301.13,257.03 L305.26,256.78 L309.39,256.51 L313.51,256.23 L317.64,255.95 L321.77,255.66 L325.90,255.37" fill="none" stroke="#a81c3a" stroke-width="0.4" opacity="0.35"/>
<path d="M226.81,263.68 L230.94,263.40 L235.07,263.12 L239.20,262.85 L243.33,262.58 L247.46,262.32 L251.59,262.06 L255.71,261.82 L259.84,261.58 L263.97,261.36 L268.10,261.15 L272.23,260.95 L276.36,260.77 L280.49,260.61 L284.61,260.46 L288.74,260.34 L292.87,260.23 L297.00,260.14 L301.13,260.07 L305.26,260.00 L309.39,259.95 L313.51,259.90 L317.64,259.86 L321.77,259.83 L325.90,259.80" fill="none" stroke="#a81c3a" stroke-width="0.4" opacity="0.35"/>
<line x1="226.81" y1="261.46" x2="325.90" y2="257.58" stroke="#a81c3a" stroke-width="1.5"/>
<line x1="221.60" y1="253.29" x2="325.90" y2="269.77" stroke="#1f3868" stroke-width="1.5"/>
<line x1="262.00" y1="253.50" x2="262.00" y2="294.70" stroke="#222" stroke-width="1.25" stroke-dasharray="2.9,2.2"/>
<text x="248.50" y="247.50" font-size="7.3" fill="#1e1e1e" stroke="#1e1e1e" stroke-width="0.14" textLength="27" lengthAdjust="spacingAndGlyphs"><tspan font-style="italic">P</tspan> &lt; .001</text>
<text x="266.30" y="278.00" font-size="7.3" textLength="21.4" lengthAdjust="spacingAndGlyphs" fill="#1e1e1e" stroke="#1e1e1e" stroke-width="0.14">7.90%</text>
<text x="180.30" y="261.20" font-size="7.6" textLength="11.2" lengthAdjust="spacingAndGlyphs" fill="#1e1e1e" stroke="#1e1e1e" stroke-width="0.14">CG</text>
<text transform="translate(197.50,258.80) rotate(-90)" x="0" y="0" font-size="8" font-weight="bold" text-anchor="middle" fill="#1e1e1e" textLength="22" lengthAdjust="spacingAndGlyphs" dy="2.88">Hct (%)</text>
<text x="275.40" y="319.38" font-size="8" font-weight="bold" text-anchor="middle" fill="#1e1e1e" textLength="17.2" lengthAdjust="spacingAndGlyphs">HbF%</text>
<line x1="247.70" y1="331.30" x2="256.10" y2="331.30" stroke="#27406e" stroke-width="1.2"/>
<text x="259.70" y="333.60" font-size="7" fill="#1e1e1e" stroke="#1e1e1e" stroke-width="0.14" textLength="44.3" lengthAdjust="spacingAndGlyphs">HU<tspan font-size="4.7" dy="-2.8" fill="#2a2a2a" stroke="none">neg</tspan><tspan dy="2.8"> n = 135</tspan></text>
<line x1="247.70" y1="345.10" x2="256.10" y2="345.10" stroke="#c0203e" stroke-width="1.2"/>
<text x="259.70" y="347.40" font-size="7" fill="#1e1e1e" stroke="#1e1e1e" stroke-width="0.14" textLength="40.3" lengthAdjust="spacingAndGlyphs">HU<tspan font-size="4.7" dy="-2.8" fill="#2a2a2a" stroke="none">pos</tspan><tspan dy="2.8"> n = 81</tspan></text>
<text x="345.60" y="215.60" font-size="10.2" font-weight="bold" fill="#000" stroke="#000" stroke-width="0.3">E</text>
<line x1="391.80" y1="223.45" x2="391.80" y2="295.20" stroke="#1c1c1c" stroke-width="1.1"/>
<line x1="391.30" y1="294.70" x2="499.10" y2="294.70" stroke="#1c1c1c" stroke-width="1.1"/>
<line x1="388.60" y1="294.70" x2="391.80" y2="294.70" stroke="#1c1c1c" stroke-width="1"/>
<text x="386.50" y="297.40" font-size="7.5" text-anchor="end" fill="#1e1e1e" stroke="#1e1e1e" stroke-width="0.14">0</text>
<line x1="388.60" y1="280.85" x2="391.80" y2="280.85" stroke="#1c1c1c" stroke-width="1"/>
<text x="386.50" y="283.55" font-size="7.5" text-anchor="end" fill="#1e1e1e" stroke="#1e1e1e" stroke-width="0.14">10</text>
<line x1="388.60" y1="267.00" x2="391.80" y2="267.00" stroke="#1c1c1c" stroke-width="1"/>
<text x="386.50" y="269.70" font-size="7.5" text-anchor="end" fill="#1e1e1e" stroke="#1e1e1e" stroke-width="0.14">20</text>
<line x1="388.60" y1="253.15" x2="391.80" y2="253.15" stroke="#1c1c1c" stroke-width="1"/>
<text x="386.50" y="255.85" font-size="7.5" text-anchor="end" fill="#1e1e1e" stroke="#1e1e1e" stroke-width="0.14">30</text>
<line x1="388.60" y1="239.30" x2="391.80" y2="239.30" stroke="#1c1c1c" stroke-width="1"/>
<text x="386.50" y="242.00" font-size="7.5" text-anchor="end" fill="#1e1e1e" stroke="#1e1e1e" stroke-width="0.14">40</text>
<line x1="388.60" y1="225.45" x2="391.80" y2="225.45" stroke="#1c1c1c" stroke-width="1"/>
<text x="386.50" y="228.15" font-size="7.5" text-anchor="end" fill="#1e1e1e" stroke="#1e1e1e" stroke-width="0.14">50</text>
<line x1="391.80" y1="294.70" x2="391.80" y2="297.30" stroke="#1c1c1c" stroke-width="1"/>
<text x="391.80" y="306.90" font-size="7.5" text-anchor="middle" fill="#1e1e1e" stroke="#1e1e1e" stroke-width="0.14">0</text>
<line x1="417.88" y1="294.70" x2="417.88" y2="297.30" stroke="#1c1c1c" stroke-width="1"/>
<text x="417.88" y="306.90" font-size="7.5" text-anchor="middle" fill="#1e1e1e" stroke="#1e1e1e" stroke-width="0.14">5</text>
<line x1="443.95" y1="294.70" x2="443.95" y2="297.30" stroke="#1c1c1c" stroke-width="1"/>
<text x="443.95" y="306.90" font-size="7.5" text-anchor="middle" fill="#1e1e1e" stroke="#1e1e1e" stroke-width="0.14">10</text>
<line x1="470.02" y1="294.70" x2="470.02" y2="297.30" stroke="#1c1c1c" stroke-width="1"/>
<text x="470.02" y="306.90" font-size="7.5" text-anchor="middle" fill="#1e1e1e" stroke="#1e1e1e" stroke-width="0.14">15</text>
<line x1="496.10" y1="294.70" x2="496.10" y2="297.30" stroke="#1c1c1c" stroke-width="1"/>
<text x="496.10" y="306.90" font-size="7.5" text-anchor="middle" fill="#1e1e1e" stroke="#1e1e1e" stroke-width="0.14">20</text>
<line x1="397.01" y1="294.70" x2="397.01" y2="296.20" stroke="#1c1c1c" stroke-width="0.8"/>
<line x1="402.23" y1="294.70" x2="402.23" y2="296.20" stroke="#1c1c1c" stroke-width="0.8"/>
<line x1="407.44" y1="294.70" x2="407.44" y2="296.20" stroke="#1c1c1c" stroke-width="0.8"/>
<line x1="412.66" y1="294.70" x2="412.66" y2="296.20" stroke="#1c1c1c" stroke-width="0.8"/>
<line x1="423.09" y1="294.70" x2="423.09" y2="296.20" stroke="#1c1c1c" stroke-width="0.8"/>
<line x1="428.31" y1="294.70" x2="428.31" y2="296.20" stroke="#1c1c1c" stroke-width="0.8"/>
<line x1="433.52" y1="294.70" x2="433.52" y2="296.20" stroke="#1c1c1c" stroke-width="0.8"/>
<line x1="438.74" y1="294.70" x2="438.74" y2="296.20" stroke="#1c1c1c" stroke-width="0.8"/>
<line x1="449.17" y1="294.70" x2="449.17" y2="296.20" stroke="#1c1c1c" stroke-width="0.8"/>
<line x1="454.38" y1="294.70" x2="454.38" y2="296.20" stroke="#1c1c1c" stroke-width="0.8"/>
<line x1="459.60" y1="294.70" x2="459.60" y2="296.20" stroke="#1c1c1c" stroke-width="0.8"/>
<line x1="464.81" y1="294.70" x2="464.81" y2="296.20" stroke="#1c1c1c" stroke-width="0.8"/>
<line x1="475.24" y1="294.70" x2="475.24" y2="296.20" stroke="#1c1c1c" stroke-width="0.8"/>
<line x1="480.46" y1="294.70" x2="480.46" y2="296.20" stroke="#1c1c1c" stroke-width="0.8"/>
<line x1="485.67" y1="294.70" x2="485.67" y2="296.20" stroke="#1c1c1c" stroke-width="0.8"/>
<line x1="490.88" y1="294.70" x2="490.88" y2="296.20" stroke="#1c1c1c" stroke-width="0.8"/>
<path d="M391.80,251.76 L396.15,252.24 L400.49,252.70 L404.84,253.13 L409.18,253.52 L413.53,253.87 L417.88,254.15 L422.22,254.37 L426.57,254.52 L430.91,254.60 L435.26,254.64 L439.60,254.65 L443.95,254.63 L448.30,254.60 L452.64,254.56 L456.99,254.50 L461.33,254.44 L465.68,254.38 L470.02,254.31 L474.37,254.24 L478.72,254.16 L483.06,254.08 L487.41,254.00 L491.75,253.92 L496.10,253.84 L496.10,266.86 L491.75,266.26 L487.41,265.66 L483.06,265.06 L478.72,264.47 L474.37,263.87 L470.02,263.28 L465.68,262.69 L461.33,262.11 L456.99,261.53 L452.64,260.95 L448.30,260.39 L443.95,259.84 L439.60,259.30 L435.26,258.79 L430.91,258.31 L426.57,257.87 L422.22,257.50 L417.88,257.20 L413.53,256.97 L409.18,256.80 L404.84,256.67 L400.49,256.58 L396.15,256.51 L391.80,256.47 Z" fill="#8aa2da" opacity="0.55"/>
<path d="M391.80,251.76 L396.15,252.24 L400.49,252.70 L404.84,253.13 L409.18,253.52 L413.53,253.87 L417.88,254.15 L422.22,254.37 L426.57,254.52 L430.91,254.60 L435.26,254.64 L439.60,254.65 L443.95,254.63 L448.30,254.60 L452.64,254.56 L456.99,254.50 L461.33,254.44 L465.68,254.38 L470.02,254.31 L474.37,254.24 L478.72,254.16 L483.06,254.08 L487.41,254.00 L491.75,253.92 L496.10,253.84" fill="none" stroke="#1f3868" stroke-width="0.4" opacity="0.35"/>
<path d="M391.80,256.47 L396.15,256.51 L400.49,256.58 L404.84,256.67 L409.18,256.80 L413.53,256.97 L417.88,257.20 L422.22,257.50 L426.57,257.87 L430.91,258.31 L435.26,258.79 L439.60,259.30 L443.95,259.84 L448.30,260.39 L452.64,260.95 L456.99,261.53 L461.33,262.11 L465.68,262.69 L470.02,263.28 L474.37,263.87 L478.72,264.47 L483.06,265.06 L487.41,265.66 L491.75,266.26 L496.10,266.86" fill="none" stroke="#1f3868" stroke-width="0.4" opacity="0.35"/>
<path d="M395.97,257.31 L400.14,257.33 L404.32,257.35 L408.49,257.36 L412.66,257.36 L416.83,257.35 L421.00,257.32 L425.18,257.27 L429.35,257.18 L433.52,257.06 L437.69,256.88 L441.86,256.64 L446.04,256.33 L450.21,255.96 L454.38,255.53 L458.55,255.06 L462.72,254.55 L466.90,254.01 L471.07,253.45 L475.24,252.87 L479.41,252.28 L483.58,251.68 L487.76,251.07 L491.93,250.45 L496.10,249.83 L496.10,259.24 L491.93,259.25 L487.76,259.25 L483.58,259.26 L479.41,259.29 L475.24,259.32 L471.07,259.36 L466.90,259.42 L462.72,259.51 L458.55,259.62 L454.38,259.77 L450.21,259.97 L446.04,260.22 L441.86,260.53 L437.69,260.92 L433.52,261.36 L429.35,261.86 L425.18,262.40 L421.00,262.97 L416.83,263.56 L412.66,264.17 L408.49,264.80 L404.32,265.43 L400.14,266.07 L395.97,266.72 Z" fill="#ec7a8a" opacity="0.55"/>
<path d="M395.97,257.31 L400.14,257.33 L404.32,257.35 L408.49,257.36 L412.66,257.36 L416.83,257.35 L421.00,257.32 L425.18,257.27 L429.35,257.18 L433.52,257.06 L437.69,256.88 L441.86,256.64 L446.04,256.33 L450.21,255.96 L454.38,255.53 L458.55,255.06 L462.72,254.55 L466.90,254.01 L471.07,253.45 L475.24,252.87 L479.41,252.28 L483.58,251.68 L487.76,251.07 L491.93,250.45 L496.10,249.83" fill="none" stroke="#a81c3a" stroke-width="0.4" opacity="0.35"/>
<path d="M395.97,266.72 L400.14,266.07 L404.32,265.43 L408.49,264.80 L412.66,264.17 L416.83,263.56 L421.00,262.97 L425.18,262.40 L429.35,261.86 L433.52,261.36 L437.69,260.92 L441.86,260.53 L446.04,260.22 L450.21,259.97 L454.38,259.77 L458.55,259.62 L462.72,259.51 L466.90,259.42 L471.07,259.36 L475.24,259.32 L479.41,259.29 L483.58,259.26 L487.76,259.25 L491.93,259.25 L496.10,259.24" fill="none" stroke="#a81c3a" stroke-width="0.4" opacity="0.35"/>
<line x1="395.97" y1="262.01" x2="496.10" y2="254.53" stroke="#a81c3a" stroke-width="1.5"/>
<line x1="391.80" y1="254.12" x2="496.10" y2="260.35" stroke="#1f3868" stroke-width="1.5"/>
<line x1="450.10" y1="253.50" x2="450.10" y2="294.70" stroke="#222" stroke-width="1.25" stroke-dasharray="2.9,2.2"/>
<text x="416.20" y="245.70" font-size="7.3" fill="#1e1e1e" stroke="#1e1e1e" stroke-width="0.14" textLength="33" lengthAdjust="spacingAndGlyphs"><tspan font-style="italic">P</tspan> = .0273</text>
<text x="455.50" y="278.00" font-size="7.3" textLength="25.4" lengthAdjust="spacingAndGlyphs" fill="#1e1e1e" stroke="#1e1e1e" stroke-width="0.14">11.17%</text>
<text x="350.50" y="261.20" font-size="7.6" textLength="11.8" lengthAdjust="spacingAndGlyphs" fill="#1e1e1e" stroke="#1e1e1e" stroke-width="0.14">GG</text>
<text transform="translate(367.70,258.80) rotate(-90)" x="0" y="0" font-size="8" font-weight="bold" text-anchor="middle" fill="#1e1e1e" textLength="22" lengthAdjust="spacingAndGlyphs" dy="2.88">Hct (%)</text>
<text x="445.60" y="319.38" font-size="8" font-weight="bold" text-anchor="middle" fill="#1e1e1e" textLength="17.2" lengthAdjust="spacingAndGlyphs">HbF%</text>
<line x1="417.70" y1="331.30" x2="426.10" y2="331.30" stroke="#27406e" stroke-width="1.2"/>
<text x="429.70" y="333.60" font-size="7" fill="#1e1e1e" stroke="#1e1e1e" stroke-width="0.14" textLength="39.5" lengthAdjust="spacingAndGlyphs">HU<tspan font-size="4.7" dy="-2.8" fill="#2a2a2a" stroke="none">neg</tspan><tspan dy="2.8"> n = 40</tspan></text>
<line x1="417.70" y1="345.10" x2="426.10" y2="345.10" stroke="#c0203e" stroke-width="1.2"/>
<text x="429.70" y="347.40" font-size="7" fill="#1e1e1e" stroke="#1e1e1e" stroke-width="0.14" textLength="39.5" lengthAdjust="spacingAndGlyphs">HU<tspan font-size="4.7" dy="-2.8" fill="#2a2a2a" stroke="none">pos</tspan><tspan dy="2.8"> n = 18</tspan></text>
<text x="7.20" y="367.20" font-size="10.2" font-weight="bold" fill="#000" stroke="#000" stroke-width="0.3">F</text>
<line x1="52.30" y1="374.90" x2="52.30" y2="447.00" stroke="#1c1c1c" stroke-width="1.1"/>
<line x1="51.80" y1="446.50" x2="156.00" y2="446.50" stroke="#1c1c1c" stroke-width="1.1"/>
<line x1="49.10" y1="446.50" x2="52.30" y2="446.50" stroke="#1c1c1c" stroke-width="1"/>
<text x="47.00" y="449.20" font-size="7.5" text-anchor="end" fill="#1e1e1e" stroke="#1e1e1e" stroke-width="0.14">0</text>
<line x1="49.10" y1="429.10" x2="52.30" y2="429.10" stroke="#1c1c1c" stroke-width="1"/>
<text x="47.00" y="431.80" font-size="7.5" text-anchor="end" fill="#1e1e1e" stroke="#1e1e1e" stroke-width="0.14">50</text>
<line x1="49.10" y1="411.70" x2="52.30" y2="411.70" stroke="#1c1c1c" stroke-width="1"/>
<text x="47.00" y="414.40" font-size="7.5" text-anchor="end" fill="#1e1e1e" stroke="#1e1e1e" stroke-width="0.14">100</text>
<line x1="49.10" y1="394.30" x2="52.30" y2="394.30" stroke="#1c1c1c" stroke-width="1"/>
<text x="47.00" y="397.00" font-size="7.5" text-anchor="end" fill="#1e1e1e" stroke="#1e1e1e" stroke-width="0.14">150</text>
<line x1="49.10" y1="376.90" x2="52.30" y2="376.90" stroke="#1c1c1c" stroke-width="1"/>
<text x="47.00" y="379.60" font-size="7.5" text-anchor="end" fill="#1e1e1e" stroke="#1e1e1e" stroke-width="0.14">200</text>
<line x1="52.30" y1="446.50" x2="52.30" y2="449.10" stroke="#1c1c1c" stroke-width="1"/>
<text x="52.30" y="458.70" font-size="7.5" text-anchor="middle" fill="#1e1e1e" stroke="#1e1e1e" stroke-width="0.14">0</text>
<line x1="77.47" y1="446.50" x2="77.47" y2="449.10" stroke="#1c1c1c" stroke-width="1"/>
<text x="77.47" y="458.70" font-size="7.5" text-anchor="middle" fill="#1e1e1e" stroke="#1e1e1e" stroke-width="0.14">5</text>
<line x1="102.65" y1="446.50" x2="102.65" y2="449.10" stroke="#1c1c1c" stroke-width="1"/>
<text x="102.65" y="458.70" font-size="7.5" text-anchor="middle" fill="#1e1e1e" stroke="#1e1e1e" stroke-width="0.14">10</text>
<line x1="127.83" y1="446.50" x2="127.83" y2="449.10" stroke="#1c1c1c" stroke-width="1"/>
<text x="127.83" y="458.70" font-size="7.5" text-anchor="middle" fill="#1e1e1e" stroke="#1e1e1e" stroke-width="0.14">15</text>
<line x1="153.00" y1="446.50" x2="153.00" y2="449.10" stroke="#1c1c1c" stroke-width="1"/>
<text x="153.00" y="458.70" font-size="7.5" text-anchor="middle" fill="#1e1e1e" stroke="#1e1e1e" stroke-width="0.14">20</text>
<line x1="57.33" y1="446.50" x2="57.33" y2="448.00" stroke="#1c1c1c" stroke-width="0.8"/>
<line x1="62.37" y1="446.50" x2="62.37" y2="448.00" stroke="#1c1c1c" stroke-width="0.8"/>
<line x1="67.41" y1="446.50" x2="67.41" y2="448.00" stroke="#1c1c1c" stroke-width="0.8"/>
<line x1="72.44" y1="446.50" x2="72.44" y2="448.00" stroke="#1c1c1c" stroke-width="0.8"/>
<line x1="82.51" y1="446.50" x2="82.51" y2="448.00" stroke="#1c1c1c" stroke-width="0.8"/>
<line x1="87.55" y1="446.50" x2="87.55" y2="448.00" stroke="#1c1c1c" stroke-width="0.8"/>
<line x1="92.58" y1="446.50" x2="92.58" y2="448.00" stroke="#1c1c1c" stroke-width="0.8"/>
<line x1="97.61" y1="446.50" x2="97.61" y2="448.00" stroke="#1c1c1c" stroke-width="0.8"/>
<line x1="107.69" y1="446.50" x2="107.69" y2="448.00" stroke="#1c1c1c" stroke-width="0.8"/>
<line x1="112.72" y1="446.50" x2="112.72" y2="448.00" stroke="#1c1c1c" stroke-width="0.8"/>
<line x1="117.75" y1="446.50" x2="117.75" y2="448.00" stroke="#1c1c1c" stroke-width="0.8"/>
<line x1="122.79" y1="446.50" x2="122.79" y2="448.00" stroke="#1c1c1c" stroke-width="0.8"/>
<line x1="132.86" y1="446.50" x2="132.86" y2="448.00" stroke="#1c1c1c" stroke-width="0.8"/>
<line x1="137.89" y1="446.50" x2="137.89" y2="448.00" stroke="#1c1c1c" stroke-width="0.8"/>
<line x1="142.93" y1="446.50" x2="142.93" y2="448.00" stroke="#1c1c1c" stroke-width="0.8"/>
<line x1="147.97" y1="446.50" x2="147.97" y2="448.00" stroke="#1c1c1c" stroke-width="0.8"/>
<path d="M52.30,411.56 L56.50,411.90 L60.69,412.22 L64.89,412.52 L69.08,412.79 L73.28,413.01 L77.47,413.21 L81.67,413.40 L85.87,413.57 L90.06,413.73 L94.26,413.89 L98.45,414.04 L102.65,414.18 L106.85,414.32 L111.04,414.46 L115.24,414.60 L119.43,414.73 L123.63,414.86 L127.83,415.00 L132.02,415.13 L136.22,415.26 L140.41,415.39 L144.61,415.52 L148.80,415.64 L153.00,415.77 L153.00,419.11 L148.80,418.83 L144.61,418.54 L140.41,418.25 L136.22,417.97 L132.02,417.68 L127.83,417.40 L123.63,417.12 L119.43,416.83 L115.24,416.55 L111.04,416.28 L106.85,416.00 L102.65,415.73 L98.45,415.46 L94.26,415.19 L90.06,414.93 L85.87,414.68 L81.67,414.44 L77.47,414.21 L73.28,413.99 L69.08,413.80 L64.89,413.65 L60.69,413.54 L56.50,413.45 L52.30,413.37 Z" fill="#8aa2da" opacity="0.55"/>
<path d="M52.30,411.56 L56.50,411.90 L60.69,412.22 L64.89,412.52 L69.08,412.79 L73.28,413.01 L77.47,413.21 L81.67,413.40 L85.87,413.57 L90.06,413.73 L94.26,413.89 L98.45,414.04 L102.65,414.18 L106.85,414.32 L111.04,414.46 L115.24,414.60 L119.43,414.73 L123.63,414.86 L127.83,415.00 L132.02,415.13 L136.22,415.26 L140.41,415.39 L144.61,415.52 L148.80,415.64 L153.00,415.77" fill="none" stroke="#1f3868" stroke-width="0.4" opacity="0.35"/>
<path d="M52.30,413.37 L56.50,413.45 L60.69,413.54 L64.89,413.65 L69.08,413.80 L73.28,413.99 L77.47,414.21 L81.67,414.44 L85.87,414.68 L90.06,414.93 L94.26,415.19 L98.45,415.46 L102.65,415.73 L106.85,416.00 L111.04,416.28 L115.24,416.55 L119.43,416.83 L123.63,417.12 L127.83,417.40 L132.02,417.68 L136.22,417.97 L140.41,418.25 L144.61,418.54 L148.80,418.83 L153.00,419.11" fill="none" stroke="#1f3868" stroke-width="0.4" opacity="0.35"/>
<path d="M52.30,413.23 L56.50,413.31 L60.69,413.38 L64.89,413.45 L69.08,413.52 L73.28,413.59 L77.47,413.65 L81.67,413.71 L85.87,413.76 L90.06,413.80 L94.26,413.82 L98.45,413.84 L102.65,413.84 L106.85,413.83 L111.04,413.80 L115.24,413.77 L119.43,413.73 L123.63,413.67 L127.83,413.62 L132.02,413.55 L136.22,413.49 L140.41,413.42 L144.61,413.35 L148.80,413.27 L153.00,413.20 L153.00,415.42 L148.80,415.36 L144.61,415.30 L140.41,415.24 L136.22,415.19 L132.02,415.14 L127.83,415.09 L123.63,415.05 L119.43,415.01 L115.24,414.98 L111.04,414.96 L106.85,414.95 L102.65,414.95 L98.45,414.97 L94.26,415.00 L90.06,415.04 L85.87,415.10 L81.67,415.16 L77.47,415.23 L73.28,415.31 L69.08,415.39 L64.89,415.47 L60.69,415.56 L56.50,415.65 L52.30,415.74 Z" fill="#ec7a8a" opacity="0.55"/>
<path d="M52.30,413.23 L56.50,413.31 L60.69,413.38 L64.89,413.45 L69.08,413.52 L73.28,413.59 L77.47,413.65 L81.67,413.71 L85.87,413.76 L90.06,413.80 L94.26,413.82 L98.45,413.84 L102.65,413.84 L106.85,413.83 L111.04,413.80 L115.24,413.77 L119.43,413.73 L123.63,413.67 L127.83,413.62 L132.02,413.55 L136.22,413.49 L140.41,413.42 L144.61,413.35 L148.80,413.27 L153.00,413.20" fill="none" stroke="#a81c3a" stroke-width="0.4" opacity="0.35"/>
<path d="M52.30,415.74 L56.50,415.65 L60.69,415.56 L64.89,415.47 L69.08,415.39 L73.28,415.31 L77.47,415.23 L81.67,415.16 L85.87,415.10 L90.06,415.04 L94.26,415.00 L98.45,414.97 L102.65,414.95 L106.85,414.95 L111.04,414.96 L115.24,414.98 L119.43,415.01 L123.63,415.05 L127.83,415.09 L132.02,415.14 L136.22,415.19 L140.41,415.24 L144.61,415.30 L148.80,415.36 L153.00,415.42" fill="none" stroke="#a81c3a" stroke-width="0.4" opacity="0.35"/>
<line x1="52.30" y1="414.48" x2="153.00" y2="414.31" stroke="#a81c3a" stroke-width="1.5"/>
<line x1="52.30" y1="412.47" x2="153.00" y2="417.44" stroke="#1f3868" stroke-width="1.5"/>
<line x1="101.70" y1="412.00" x2="101.70" y2="446.50" stroke="#222" stroke-width="1.25" stroke-dasharray="2.9,2.2"/>
<text x="78.50" y="405.00" font-size="7.3" fill="#1e1e1e" stroke="#1e1e1e" stroke-width="0.14" textLength="32.4" lengthAdjust="spacingAndGlyphs"><tspan font-style="italic">P</tspan> = .0679</text>
<text x="109.70" y="432.70" font-size="7.3" textLength="22.6" lengthAdjust="spacingAndGlyphs" fill="#1e1e1e" stroke="#1e1e1e" stroke-width="0.14">9.86%</text>
<text x="7.00" y="412.70" font-size="7.6" textLength="11.4" lengthAdjust="spacingAndGlyphs" fill="#1e1e1e" stroke="#1e1e1e" stroke-width="0.14">CC</text>
<text transform="translate(25.60,410.50) rotate(-90)" x="0" y="0" font-size="8" font-weight="bold" text-anchor="middle" fill="#1e1e1e" textLength="24" lengthAdjust="spacingAndGlyphs" dy="2.88">Hb (g/L)</text>
<text x="104.30" y="469.88" font-size="8" font-weight="bold" text-anchor="middle" fill="#1e1e1e" textLength="16.8" lengthAdjust="spacingAndGlyphs">HbF%</text>
<line x1="75.80" y1="482.90" x2="84.20" y2="482.90" stroke="#27406e" stroke-width="1.2"/>
<text x="87.80" y="485.20" font-size="7" fill="#1e1e1e" stroke="#1e1e1e" stroke-width="0.14" textLength="43.3" lengthAdjust="spacingAndGlyphs">HU<tspan font-size="4.7" dy="-2.8" fill="#2a2a2a" stroke="none">neg</tspan><tspan dy="2.8"> n = 174</tspan></text>
<line x1="75.80" y1="496.70" x2="84.20" y2="496.70" stroke="#c0203e" stroke-width="1.2"/>
<text x="87.80" y="499.00" font-size="7" fill="#1e1e1e" stroke="#1e1e1e" stroke-width="0.14" textLength="43.6" lengthAdjust="spacingAndGlyphs">HU<tspan font-size="4.7" dy="-2.8" fill="#2a2a2a" stroke="none">pos</tspan><tspan dy="2.8"> n = 105</tspan></text>
<text x="175.80" y="367.20" font-size="10.2" font-weight="bold" fill="#000" stroke="#000" stroke-width="0.3">G</text>
<line x1="221.50" y1="374.60" x2="221.50" y2="447.00" stroke="#1c1c1c" stroke-width="1.1"/>
<line x1="221.00" y1="446.50" x2="325.00" y2="446.50" stroke="#1c1c1c" stroke-width="1.1"/>
<line x1="218.30" y1="446.50" x2="221.50" y2="446.50" stroke="#1c1c1c" stroke-width="1"/>
<text x="216.20" y="449.20" font-size="7.5" text-anchor="end" fill="#1e1e1e" stroke="#1e1e1e" stroke-width="0.14">0</text>
<line x1="218.30" y1="423.20" x2="221.50" y2="423.20" stroke="#1c1c1c" stroke-width="1"/>
<text x="216.20" y="425.90" font-size="7.5" text-anchor="end" fill="#1e1e1e" stroke="#1e1e1e" stroke-width="0.14">50</text>
<line x1="218.30" y1="399.90" x2="221.50" y2="399.90" stroke="#1c1c1c" stroke-width="1"/>
<text x="216.20" y="402.60" font-size="7.5" text-anchor="end" fill="#1e1e1e" stroke="#1e1e1e" stroke-width="0.14">100</text>
<line x1="218.30" y1="376.60" x2="221.50" y2="376.60" stroke="#1c1c1c" stroke-width="1"/>
<text x="216.20" y="379.30" font-size="7.5" text-anchor="end" fill="#1e1e1e" stroke="#1e1e1e" stroke-width="0.14">150</text>
<line x1="221.50" y1="446.50" x2="221.50" y2="449.10" stroke="#1c1c1c" stroke-width="1"/>
<text x="221.50" y="458.70" font-size="7.5" text-anchor="middle" fill="#1e1e1e" stroke="#1e1e1e" stroke-width="0.14">0</text>
<line x1="246.62" y1="446.50" x2="246.62" y2="449.10" stroke="#1c1c1c" stroke-width="1"/>
<text x="246.62" y="458.70" font-size="7.5" text-anchor="middle" fill="#1e1e1e" stroke="#1e1e1e" stroke-width="0.14">5</text>
<line x1="271.75" y1="446.50" x2="271.75" y2="449.10" stroke="#1c1c1c" stroke-width="1"/>
<text x="271.75" y="458.70" font-size="7.5" text-anchor="middle" fill="#1e1e1e" stroke="#1e1e1e" stroke-width="0.14">10</text>
<line x1="296.88" y1="446.50" x2="296.88" y2="449.10" stroke="#1c1c1c" stroke-width="1"/>
<text x="296.88" y="458.70" font-size="7.5" text-anchor="middle" fill="#1e1e1e" stroke="#1e1e1e" stroke-width="0.14">15</text>
<line x1="322.00" y1="446.50" x2="322.00" y2="449.10" stroke="#1c1c1c" stroke-width="1"/>
<text x="322.00" y="458.70" font-size="7.5" text-anchor="middle" fill="#1e1e1e" stroke="#1e1e1e" stroke-width="0.14">20</text>
<line x1="226.53" y1="446.50" x2="226.53" y2="448.00" stroke="#1c1c1c" stroke-width="0.8"/>
<line x1="231.55" y1="446.50" x2="231.55" y2="448.00" stroke="#1c1c1c" stroke-width="0.8"/>
<line x1="236.57" y1="446.50" x2="236.57" y2="448.00" stroke="#1c1c1c" stroke-width="0.8"/>
<line x1="241.60" y1="446.50" x2="241.60" y2="448.00" stroke="#1c1c1c" stroke-width="0.8"/>
<line x1="251.65" y1="446.50" x2="251.65" y2="448.00" stroke="#1c1c1c" stroke-width="0.8"/>
<line x1="256.68" y1="446.50" x2="256.68" y2="448.00" stroke="#1c1c1c" stroke-width="0.8"/>
<line x1="261.70" y1="446.50" x2="261.70" y2="448.00" stroke="#1c1c1c" stroke-width="0.8"/>
<line x1="266.73" y1="446.50" x2="266.73" y2="448.00" stroke="#1c1c1c" stroke-width="0.8"/>
<line x1="276.77" y1="446.50" x2="276.77" y2="448.00" stroke="#1c1c1c" stroke-width="0.8"/>
<line x1="281.80" y1="446.50" x2="281.80" y2="448.00" stroke="#1c1c1c" stroke-width="0.8"/>
<line x1="286.82" y1="446.50" x2="286.82" y2="448.00" stroke="#1c1c1c" stroke-width="0.8"/>
<line x1="291.85" y1="446.50" x2="291.85" y2="448.00" stroke="#1c1c1c" stroke-width="0.8"/>
<line x1="301.90" y1="446.50" x2="301.90" y2="448.00" stroke="#1c1c1c" stroke-width="0.8"/>
<line x1="306.93" y1="446.50" x2="306.93" y2="448.00" stroke="#1c1c1c" stroke-width="0.8"/>
<line x1="311.95" y1="446.50" x2="311.95" y2="448.00" stroke="#1c1c1c" stroke-width="0.8"/>
<line x1="316.98" y1="446.50" x2="316.98" y2="448.00" stroke="#1c1c1c" stroke-width="0.8"/>
<path d="M221.50,398.64 L225.69,399.24 L229.88,399.81 L234.06,400.33 L238.25,400.80 L242.44,401.18 L246.62,401.51 L250.81,401.81 L255.00,402.07 L259.19,402.30 L263.38,402.52 L267.56,402.72 L271.75,402.91 L275.94,403.08 L280.12,403.26 L284.31,403.42 L288.50,403.58 L292.69,403.74 L296.88,403.90 L301.06,404.05 L305.25,404.20 L309.44,404.35 L313.62,404.50 L317.81,404.65 L322.00,404.79 L322.00,413.65 L317.81,413.07 L313.62,412.50 L309.44,411.93 L305.25,411.37 L301.06,410.80 L296.88,410.23 L292.69,409.67 L288.50,409.11 L284.31,408.55 L280.12,408.00 L275.94,407.45 L271.75,406.91 L267.56,406.38 L263.38,405.86 L259.19,405.36 L255.00,404.88 L250.81,404.42 L246.62,403.99 L242.44,403.61 L238.25,403.27 L234.06,403.02 L229.88,402.82 L225.69,402.68 L221.50,402.56 Z" fill="#8aa2da" opacity="0.55"/>
<path d="M221.50,398.64 L225.69,399.24 L229.88,399.81 L234.06,400.33 L238.25,400.80 L242.44,401.18 L246.62,401.51 L250.81,401.81 L255.00,402.07 L259.19,402.30 L263.38,402.52 L267.56,402.72 L271.75,402.91 L275.94,403.08 L280.12,403.26 L284.31,403.42 L288.50,403.58 L292.69,403.74 L296.88,403.90 L301.06,404.05 L305.25,404.20 L309.44,404.35 L313.62,404.50 L317.81,404.65 L322.00,404.79" fill="none" stroke="#1f3868" stroke-width="0.4" opacity="0.35"/>
<path d="M221.50,402.56 L225.69,402.68 L229.88,402.82 L234.06,403.02 L238.25,403.27 L242.44,403.61 L246.62,403.99 L250.81,404.42 L255.00,404.88 L259.19,405.36 L263.38,405.86 L267.56,406.38 L271.75,406.91 L275.94,407.45 L280.12,408.00 L284.31,408.55 L288.50,409.11 L292.69,409.67 L296.88,410.23 L301.06,410.80 L305.25,411.37 L309.44,411.93 L313.62,412.50 L317.81,413.07 L322.00,413.65" fill="none" stroke="#1f3868" stroke-width="0.4" opacity="0.35"/>
<path d="M227.53,406.14 L231.47,406.09 L235.40,406.03 L239.34,405.97 L243.28,405.90 L247.21,405.82 L251.15,405.74 L255.08,405.65 L259.02,405.54 L262.96,405.41 L266.89,405.26 L270.83,405.08 L274.76,404.86 L278.70,404.60 L282.64,404.30 L286.57,403.98 L290.51,403.63 L294.45,403.25 L298.38,402.86 L302.32,402.46 L306.25,402.04 L310.19,401.62 L314.13,401.19 L318.06,400.76 L322.00,400.32 L322.00,405.54 L318.06,405.62 L314.13,405.71 L310.19,405.81 L306.25,405.91 L302.32,406.02 L298.38,406.14 L294.45,406.28 L290.51,406.43 L286.57,406.60 L282.64,406.80 L278.70,407.03 L274.76,407.29 L270.83,407.60 L266.89,407.94 L262.96,408.31 L259.02,408.71 L255.08,409.12 L251.15,409.55 L247.21,409.99 L243.28,410.44 L239.34,410.90 L235.40,411.36 L231.47,411.83 L227.53,412.30 Z" fill="#ec7a8a" opacity="0.55"/>
<path d="M227.53,406.14 L231.47,406.09 L235.40,406.03 L239.34,405.97 L243.28,405.90 L247.21,405.82 L251.15,405.74 L255.08,405.65 L259.02,405.54 L262.96,405.41 L266.89,405.26 L270.83,405.08 L274.76,404.86 L278.70,404.60 L282.64,404.30 L286.57,403.98 L290.51,403.63 L294.45,403.25 L298.38,402.86 L302.32,402.46 L306.25,402.04 L310.19,401.62 L314.13,401.19 L318.06,400.76 L322.00,400.32" fill="none" stroke="#a81c3a" stroke-width="0.4" opacity="0.35"/>
<path d="M227.53,412.30 L231.47,411.83 L235.40,411.36 L239.34,410.90 L243.28,410.44 L247.21,409.99 L251.15,409.55 L255.08,409.12 L259.02,408.71 L262.96,408.31 L266.89,407.94 L270.83,407.60 L274.76,407.29 L278.70,407.03 L282.64,406.80 L286.57,406.60 L290.51,406.43 L294.45,406.28 L298.38,406.14 L302.32,406.02 L306.25,405.91 L310.19,405.81 L314.13,405.71 L318.06,405.62 L322.00,405.54" fill="none" stroke="#a81c3a" stroke-width="0.4" opacity="0.35"/>
<line x1="227.53" y1="409.22" x2="322.00" y2="402.93" stroke="#a81c3a" stroke-width="1.5"/>
<line x1="221.50" y1="400.60" x2="322.00" y2="409.22" stroke="#1f3868" stroke-width="1.5"/>
<line x1="280.40" y1="397.30" x2="280.40" y2="446.50" stroke="#222" stroke-width="1.25" stroke-dasharray="2.9,2.2"/>
<text x="244.60" y="392.00" font-size="7.3" fill="#1e1e1e" stroke="#1e1e1e" stroke-width="0.14" textLength="33.2" lengthAdjust="spacingAndGlyphs"><tspan font-style="italic">P</tspan> = .0002</text>
<text x="285.40" y="433.10" font-size="7.3" textLength="25.4" lengthAdjust="spacingAndGlyphs" fill="#1e1e1e" stroke="#1e1e1e" stroke-width="0.14">11.79%</text>
<text x="175.40" y="412.70" font-size="7.6" textLength="11.4" lengthAdjust="spacingAndGlyphs" fill="#1e1e1e" stroke="#1e1e1e" stroke-width="0.14">CG</text>
<text transform="translate(194.20,410.50) rotate(-90)" x="0" y="0" font-size="8" font-weight="bold" text-anchor="middle" fill="#1e1e1e" textLength="24" lengthAdjust="spacingAndGlyphs" dy="2.88">Hb (g/L)</text>
<text x="273.30" y="469.88" font-size="8" font-weight="bold" text-anchor="middle" fill="#1e1e1e" textLength="16.8" lengthAdjust="spacingAndGlyphs">HbF%</text>
<line x1="245.00" y1="482.90" x2="253.40" y2="482.90" stroke="#27406e" stroke-width="1.2"/>
<text x="257.00" y="485.20" font-size="7" fill="#1e1e1e" stroke="#1e1e1e" stroke-width="0.14" textLength="44.3" lengthAdjust="spacingAndGlyphs">HU<tspan font-size="4.7" dy="-2.8" fill="#2a2a2a" stroke="none">neg</tspan><tspan dy="2.8"> n = 135</tspan></text>
<line x1="245.00" y1="496.70" x2="253.40" y2="496.70" stroke="#c0203e" stroke-width="1.2"/>
<text x="257.00" y="499.00" font-size="7" fill="#1e1e1e" stroke="#1e1e1e" stroke-width="0.14" textLength="40.3" lengthAdjust="spacingAndGlyphs">HU<tspan font-size="4.7" dy="-2.8" fill="#2a2a2a" stroke="none">pos</tspan><tspan dy="2.8"> n = 81</tspan></text>
<text x="345.80" y="367.20" font-size="10.2" font-weight="bold" fill="#000" stroke="#000" stroke-width="0.3">H</text>
<line x1="391.70" y1="374.40" x2="391.70" y2="447.00" stroke="#1c1c1c" stroke-width="1.1"/>
<line x1="391.20" y1="446.50" x2="494.10" y2="446.50" stroke="#1c1c1c" stroke-width="1.1"/>
<line x1="388.50" y1="446.50" x2="391.70" y2="446.50" stroke="#1c1c1c" stroke-width="1"/>
<text x="386.40" y="449.20" font-size="7.5" text-anchor="end" fill="#1e1e1e" stroke="#1e1e1e" stroke-width="0.14">0</text>
<line x1="388.50" y1="424.50" x2="391.70" y2="424.50" stroke="#1c1c1c" stroke-width="1"/>
<text x="386.40" y="427.20" font-size="7.5" text-anchor="end" fill="#1e1e1e" stroke="#1e1e1e" stroke-width="0.14">50</text>
<line x1="388.50" y1="402.50" x2="391.70" y2="402.50" stroke="#1c1c1c" stroke-width="1"/>
<text x="386.40" y="405.20" font-size="7.5" text-anchor="end" fill="#1e1e1e" stroke="#1e1e1e" stroke-width="0.14">100</text>
<line x1="388.50" y1="380.50" x2="391.70" y2="380.50" stroke="#1c1c1c" stroke-width="1"/>
<text x="386.40" y="383.20" font-size="7.5" text-anchor="end" fill="#1e1e1e" stroke="#1e1e1e" stroke-width="0.14">150</text>
<line x1="391.70" y1="446.50" x2="391.70" y2="449.10" stroke="#1c1c1c" stroke-width="1"/>
<text x="391.70" y="458.70" font-size="7.5" text-anchor="middle" fill="#1e1e1e" stroke="#1e1e1e" stroke-width="0.14">0</text>
<line x1="416.55" y1="446.50" x2="416.55" y2="449.10" stroke="#1c1c1c" stroke-width="1"/>
<text x="416.55" y="458.70" font-size="7.5" text-anchor="middle" fill="#1e1e1e" stroke="#1e1e1e" stroke-width="0.14">5</text>
<line x1="441.40" y1="446.50" x2="441.40" y2="449.10" stroke="#1c1c1c" stroke-width="1"/>
<text x="441.40" y="458.70" font-size="7.5" text-anchor="middle" fill="#1e1e1e" stroke="#1e1e1e" stroke-width="0.14">10</text>
<line x1="466.25" y1="446.50" x2="466.25" y2="449.10" stroke="#1c1c1c" stroke-width="1"/>
<text x="466.25" y="458.70" font-size="7.5" text-anchor="middle" fill="#1e1e1e" stroke="#1e1e1e" stroke-width="0.14">15</text>
<line x1="491.10" y1="446.50" x2="491.10" y2="449.10" stroke="#1c1c1c" stroke-width="1"/>
<text x="491.10" y="458.70" font-size="7.5" text-anchor="middle" fill="#1e1e1e" stroke="#1e1e1e" stroke-width="0.14">20</text>
<line x1="396.67" y1="446.50" x2="396.67" y2="448.00" stroke="#1c1c1c" stroke-width="0.8"/>
<line x1="401.64" y1="446.50" x2="401.64" y2="448.00" stroke="#1c1c1c" stroke-width="0.8"/>
<line x1="406.61" y1="446.50" x2="406.61" y2="448.00" stroke="#1c1c1c" stroke-width="0.8"/>
<line x1="411.58" y1="446.50" x2="411.58" y2="448.00" stroke="#1c1c1c" stroke-width="0.8"/>
<line x1="421.52" y1="446.50" x2="421.52" y2="448.00" stroke="#1c1c1c" stroke-width="0.8"/>
<line x1="426.49" y1="446.50" x2="426.49" y2="448.00" stroke="#1c1c1c" stroke-width="0.8"/>
<line x1="431.46" y1="446.50" x2="431.46" y2="448.00" stroke="#1c1c1c" stroke-width="0.8"/>
<line x1="436.43" y1="446.50" x2="436.43" y2="448.00" stroke="#1c1c1c" stroke-width="0.8"/>
<line x1="446.37" y1="446.50" x2="446.37" y2="448.00" stroke="#1c1c1c" stroke-width="0.8"/>
<line x1="451.34" y1="446.50" x2="451.34" y2="448.00" stroke="#1c1c1c" stroke-width="0.8"/>
<line x1="456.31" y1="446.50" x2="456.31" y2="448.00" stroke="#1c1c1c" stroke-width="0.8"/>
<line x1="461.28" y1="446.50" x2="461.28" y2="448.00" stroke="#1c1c1c" stroke-width="0.8"/>
<line x1="471.22" y1="446.50" x2="471.22" y2="448.00" stroke="#1c1c1c" stroke-width="0.8"/>
<line x1="476.19" y1="446.50" x2="476.19" y2="448.00" stroke="#1c1c1c" stroke-width="0.8"/>
<line x1="481.16" y1="446.50" x2="481.16" y2="448.00" stroke="#1c1c1c" stroke-width="0.8"/>
<line x1="486.13" y1="446.50" x2="486.13" y2="448.00" stroke="#1c1c1c" stroke-width="0.8"/>
<path d="M391.70,399.64 L395.84,400.13 L399.98,400.60 L404.12,401.03 L408.27,401.41 L412.41,401.73 L416.55,401.97 L420.69,402.14 L424.83,402.26 L428.97,402.31 L433.12,402.33 L437.26,402.31 L441.40,402.27 L445.54,402.21 L449.68,402.13 L453.82,402.04 L457.97,401.95 L462.11,401.85 L466.25,401.74 L470.39,401.64 L474.53,401.52 L478.67,401.41 L482.82,401.29 L486.96,401.17 L491.10,401.05 L491.10,413.81 L486.96,413.28 L482.82,412.75 L478.67,412.22 L474.53,411.69 L470.39,411.17 L466.25,410.65 L462.11,410.13 L457.97,409.62 L453.82,409.12 L449.68,408.62 L445.54,408.13 L441.40,407.66 L437.26,407.21 L433.12,406.78 L428.97,406.38 L424.83,406.03 L420.69,405.73 L416.55,405.49 L412.41,405.33 L408.27,405.24 L404.12,405.21 L399.98,405.23 L395.84,405.28 L391.70,405.36 Z" fill="#8aa2da" opacity="0.55"/>
<path d="M391.70,399.64 L395.84,400.13 L399.98,400.60 L404.12,401.03 L408.27,401.41 L412.41,401.73 L416.55,401.97 L420.69,402.14 L424.83,402.26 L428.97,402.31 L433.12,402.33 L437.26,402.31 L441.40,402.27 L445.54,402.21 L449.68,402.13 L453.82,402.04 L457.97,401.95 L462.11,401.85 L466.25,401.74 L470.39,401.64 L474.53,401.52 L478.67,401.41 L482.82,401.29 L486.96,401.17 L491.10,401.05" fill="none" stroke="#1f3868" stroke-width="0.4" opacity="0.35"/>
<path d="M391.70,405.36 L395.84,405.28 L399.98,405.23 L404.12,405.21 L408.27,405.24 L412.41,405.33 L416.55,405.49 L420.69,405.73 L424.83,406.03 L428.97,406.38 L433.12,406.78 L437.26,407.21 L441.40,407.66 L445.54,408.13 L449.68,408.62 L453.82,409.12 L457.97,409.62 L462.11,410.13 L466.25,410.65 L470.39,411.17 L474.53,411.69 L478.67,412.22 L482.82,412.75 L486.96,413.28 L491.10,413.81" fill="none" stroke="#1f3868" stroke-width="0.4" opacity="0.35"/>
<path d="M395.68,406.90 L399.65,406.77 L403.63,406.63 L407.60,406.49 L411.58,406.34 L415.56,406.18 L419.53,406.00 L423.51,405.80 L427.48,405.57 L431.46,405.31 L435.44,405.01 L439.41,404.66 L443.39,404.25 L447.36,403.77 L451.34,403.22 L455.32,402.61 L459.29,401.97 L463.27,401.29 L467.24,400.59 L471.22,399.87 L475.20,399.15 L479.17,398.41 L483.15,397.67 L487.12,396.92 L491.10,396.16 L491.10,406.20 L487.12,406.25 L483.15,406.31 L479.17,406.37 L475.20,406.44 L471.22,406.52 L467.24,406.61 L463.27,406.72 L459.29,406.85 L455.32,407.01 L451.34,407.21 L447.36,407.46 L443.39,407.79 L439.41,408.19 L435.44,408.65 L431.46,409.15 L427.48,409.70 L423.51,410.28 L419.53,410.88 L415.56,411.51 L411.58,412.15 L407.60,412.81 L403.63,413.47 L399.65,414.14 L395.68,414.82 Z" fill="#ec7a8a" opacity="0.55"/>
<path d="M395.68,406.90 L399.65,406.77 L403.63,406.63 L407.60,406.49 L411.58,406.34 L415.56,406.18 L419.53,406.00 L423.51,405.80 L427.48,405.57 L431.46,405.31 L435.44,405.01 L439.41,404.66 L443.39,404.25 L447.36,403.77 L451.34,403.22 L455.32,402.61 L459.29,401.97 L463.27,401.29 L467.24,400.59 L471.22,399.87 L475.20,399.15 L479.17,398.41 L483.15,397.67 L487.12,396.92 L491.10,396.16" fill="none" stroke="#a81c3a" stroke-width="0.4" opacity="0.35"/>
<path d="M395.68,414.82 L399.65,414.14 L403.63,413.47 L407.60,412.81 L411.58,412.15 L415.56,411.51 L419.53,410.88 L423.51,410.28 L427.48,409.70 L431.46,409.15 L435.44,408.65 L439.41,408.19 L443.39,407.79 L447.36,407.46 L451.34,407.21 L455.32,407.01 L459.29,406.85 L463.27,406.72 L467.24,406.61 L471.22,406.52 L475.20,406.44 L479.17,406.37 L483.15,406.31 L487.12,406.25 L491.10,406.20" fill="none" stroke="#a81c3a" stroke-width="0.4" opacity="0.35"/>
<line x1="395.68" y1="410.86" x2="491.10" y2="401.18" stroke="#a81c3a" stroke-width="1.5"/>
<line x1="391.70" y1="402.50" x2="491.10" y2="407.43" stroke="#1f3868" stroke-width="1.5"/>
<line x1="448.60" y1="397.30" x2="448.60" y2="446.50" stroke="#222" stroke-width="1.25" stroke-dasharray="2.9,2.2"/>
<text x="415.00" y="393.20" font-size="7.3" fill="#1e1e1e" stroke="#1e1e1e" stroke-width="0.14" textLength="32" lengthAdjust="spacingAndGlyphs"><tspan font-style="italic">P</tspan> = .0174</text>
<text x="452.00" y="432.00" font-size="7.3" textLength="25" lengthAdjust="spacingAndGlyphs" fill="#1e1e1e" stroke="#1e1e1e" stroke-width="0.14">11.58%</text>
<text x="345.40" y="412.70" font-size="7.6" textLength="11.4" lengthAdjust="spacingAndGlyphs" fill="#1e1e1e" stroke="#1e1e1e" stroke-width="0.14">GG</text>
<text transform="translate(364.00,410.50) rotate(-90)" x="0" y="0" font-size="8" font-weight="bold" text-anchor="middle" fill="#1e1e1e" textLength="24" lengthAdjust="spacingAndGlyphs" dy="2.88">Hb (g/L)</text>
<text x="442.60" y="469.88" font-size="8" font-weight="bold" text-anchor="middle" fill="#1e1e1e" textLength="21.8" lengthAdjust="spacingAndGlyphs">HbF(%)</text>
<line x1="415.00" y1="482.90" x2="423.40" y2="482.90" stroke="#27406e" stroke-width="1.2"/>
<text x="427.00" y="485.20" font-size="7" fill="#1e1e1e" stroke="#1e1e1e" stroke-width="0.14" textLength="41" lengthAdjust="spacingAndGlyphs">HU<tspan font-size="4.7" dy="-2.8" fill="#2a2a2a" stroke="none">neg</tspan><tspan dy="2.8"> n = 40</tspan></text>
<line x1="415.00" y1="496.70" x2="423.40" y2="496.70" stroke="#c0203e" stroke-width="1.2"/>
<text x="427.00" y="499.00" font-size="7" fill="#1e1e1e" stroke="#1e1e1e" stroke-width="0.14" textLength="41" lengthAdjust="spacingAndGlyphs">HU<tspan font-size="4.7" dy="-2.8" fill="#2a2a2a" stroke="none">pos</tspan><tspan dy="2.8"> n = 18</tspan></text>
<text x="7.00" y="518.80" font-size="10.2" font-weight="bold" fill="#000" stroke="#000" stroke-width="0.3">I</text>
<line x1="52.80" y1="526.20" x2="52.80" y2="611.20" stroke="#1c1c1c" stroke-width="1.1"/>
<line x1="52.30" y1="610.70" x2="177.05" y2="610.70" stroke="#1c1c1c" stroke-width="1.1"/>
<line x1="49.60" y1="610.70" x2="52.80" y2="610.70" stroke="#1c1c1c" stroke-width="1"/>
<text x="47.20" y="613.40" font-size="7.5" text-anchor="end" fill="#1e1e1e" stroke="#1e1e1e" stroke-width="0.14">−20</text>
<line x1="49.60" y1="583.30" x2="52.80" y2="583.30" stroke="#1c1c1c" stroke-width="1"/>
<text x="47.20" y="586.00" font-size="7.5" text-anchor="end" fill="#1e1e1e" stroke="#1e1e1e" stroke-width="0.14">0</text>
<line x1="49.60" y1="555.90" x2="52.80" y2="555.90" stroke="#1c1c1c" stroke-width="1"/>
<text x="47.20" y="558.60" font-size="7.5" text-anchor="end" fill="#1e1e1e" stroke="#1e1e1e" stroke-width="0.14">20</text>
<line x1="49.60" y1="528.50" x2="52.80" y2="528.50" stroke="#1c1c1c" stroke-width="1"/>
<text x="47.20" y="531.20" font-size="7.5" text-anchor="end" fill="#1e1e1e" stroke="#1e1e1e" stroke-width="0.14">40</text>
<line x1="52.80" y1="610.70" x2="52.80" y2="613.30" stroke="#1c1c1c" stroke-width="1"/>
<text x="52.80" y="622.90" font-size="7.5" text-anchor="middle" fill="#1e1e1e" stroke="#1e1e1e" stroke-width="0.14">0</text>
<line x1="77.45" y1="610.70" x2="77.45" y2="613.30" stroke="#1c1c1c" stroke-width="1"/>
<text x="77.45" y="622.90" font-size="7.5" text-anchor="middle" fill="#1e1e1e" stroke="#1e1e1e" stroke-width="0.14">20</text>
<line x1="102.10" y1="610.70" x2="102.10" y2="613.30" stroke="#1c1c1c" stroke-width="1"/>
<text x="102.10" y="622.90" font-size="7.5" text-anchor="middle" fill="#1e1e1e" stroke="#1e1e1e" stroke-width="0.14">40</text>
<line x1="126.75" y1="610.70" x2="126.75" y2="613.30" stroke="#1c1c1c" stroke-width="1"/>
<text x="126.75" y="622.90" font-size="7.5" text-anchor="middle" fill="#1e1e1e" stroke="#1e1e1e" stroke-width="0.14">60</text>
<line x1="151.40" y1="610.70" x2="151.40" y2="613.30" stroke="#1c1c1c" stroke-width="1"/>
<text x="151.40" y="622.90" font-size="7.5" text-anchor="middle" fill="#1e1e1e" stroke="#1e1e1e" stroke-width="0.14">80</text>
<line x1="176.05" y1="610.70" x2="176.05" y2="613.30" stroke="#1c1c1c" stroke-width="1"/>
<text x="176.05" y="622.90" font-size="7.5" text-anchor="middle" fill="#1e1e1e" stroke="#1e1e1e" stroke-width="0.14">100</text>
<line x1="52.80" y1="583.30" x2="177.05" y2="583.30" stroke="#555" stroke-width="0.8" stroke-dasharray="1,1.3"/>
<path d="M79.91,551.86 L82.29,553.50 L84.67,555.12 L87.05,556.72 L89.43,558.30 L91.80,559.84 L94.18,561.30 L96.56,562.65 L98.94,563.80 L101.31,564.64 L103.69,565.14 L106.07,565.47 L108.45,565.68 L110.83,565.79 L113.20,565.82 L115.58,565.80 L117.96,565.75 L120.34,565.66 L122.71,565.55 L125.09,565.43 L127.47,565.29 L129.85,565.15 L132.22,564.99 L134.60,564.83 L136.98,564.67 L136.98,586.31 L134.60,585.14 L132.22,583.98 L129.85,582.82 L127.47,581.67 L125.09,580.53 L122.71,579.40 L120.34,578.29 L117.96,577.20 L115.58,576.14 L113.20,575.11 L110.83,574.14 L108.45,573.25 L106.07,572.45 L103.69,571.78 L101.31,571.27 L98.94,571.10 L96.56,571.25 L94.18,571.60 L91.80,572.06 L89.43,572.59 L87.05,573.16 L84.67,573.76 L82.29,574.38 L79.91,575.01 Z" fill="#a8d89a" opacity="0.5"/>
<path d="M79.91,551.86 L82.29,553.50 L84.67,555.12 L87.05,556.72 L89.43,558.30 L91.80,559.84 L94.18,561.30 L96.56,562.65 L98.94,563.80 L101.31,564.64 L103.69,565.14 L106.07,565.47 L108.45,565.68 L110.83,565.79 L113.20,565.82 L115.58,565.80 L117.96,565.75 L120.34,565.66 L122.71,565.55 L125.09,565.43 L127.47,565.29 L129.85,565.15 L132.22,564.99 L134.60,564.83 L136.98,564.67" fill="none" stroke="#5aa050" stroke-width="0.6" opacity="0.7"/>
<path d="M79.91,575.01 L82.29,574.38 L84.67,573.76 L87.05,573.16 L89.43,572.59 L91.80,572.06 L94.18,571.60 L96.56,571.25 L98.94,571.10 L101.31,571.27 L103.69,571.78 L106.07,572.45 L108.45,573.25 L110.83,574.14 L113.20,575.11 L115.58,576.14 L117.96,577.20 L120.34,578.29 L122.71,579.40 L125.09,580.53 L127.47,581.67 L129.85,582.82 L132.22,583.98 L134.60,585.14 L136.98,586.31" fill="none" stroke="#5aa050" stroke-width="0.6" opacity="0.7"/>
<path d="M67.84,561.11 L70.69,561.42 L73.54,561.72 L76.39,562.03 L79.24,562.32 L82.09,562.60 L84.94,562.87 L87.79,563.13 L90.64,563.36 L93.49,563.55 L96.34,563.71 L99.19,563.81 L102.04,563.85 L104.89,563.81 L107.74,563.71 L110.59,563.56 L113.44,563.36 L116.29,563.13 L119.14,562.88 L121.99,562.61 L124.84,562.32 L127.69,562.03 L130.54,561.73 L133.39,561.42 L136.24,561.11 L136.24,569.87 L133.39,569.56 L130.54,569.25 L127.69,568.95 L124.84,568.66 L121.99,568.37 L119.14,568.10 L116.29,567.85 L113.44,567.62 L110.59,567.42 L107.74,567.27 L104.89,567.17 L102.04,567.13 L99.19,567.17 L96.34,567.27 L93.49,567.43 L90.64,567.62 L87.79,567.85 L84.94,568.11 L82.09,568.38 L79.24,568.66 L76.39,568.95 L73.54,569.26 L70.69,569.56 L67.84,569.87 Z" fill="#f2c27a" opacity="0.6"/>
<path d="M67.84,561.11 L70.69,561.42 L73.54,561.72 L76.39,562.03 L79.24,562.32 L82.09,562.60 L84.94,562.87 L87.79,563.13 L90.64,563.36 L93.49,563.55 L96.34,563.71 L99.19,563.81 L102.04,563.85 L104.89,563.81 L107.74,563.71 L110.59,563.56 L113.44,563.36 L116.29,563.13 L119.14,562.88 L121.99,562.61 L124.84,562.32 L127.69,562.03 L130.54,561.73 L133.39,561.42 L136.24,561.11" fill="none" stroke="#d9a050" stroke-width="0.6" opacity="0.6"/>
<path d="M67.84,569.87 L70.69,569.56 L73.54,569.26 L76.39,568.95 L79.24,568.66 L82.09,568.38 L84.94,568.11 L87.79,567.85 L90.64,567.62 L93.49,567.43 L96.34,567.27 L99.19,567.17 L102.04,567.13 L104.89,567.17 L107.74,567.27 L110.59,567.42 L113.44,567.62 L116.29,567.85 L119.14,568.10 L121.99,568.37 L124.84,568.66 L127.69,568.95 L130.54,569.25 L133.39,569.56 L136.24,569.87" fill="none" stroke="#d9a050" stroke-width="0.6" opacity="0.6"/>
<path d="M67.84,566.86 L70.90,566.64 L73.97,566.42 L77.03,566.18 L80.10,565.94 L83.17,565.69 L86.23,565.42 L89.30,565.13 L92.36,564.80 L95.43,564.42 L98.49,563.97 L101.56,563.41 L104.63,562.73 L107.69,561.90 L110.76,560.93 L113.82,559.86 L116.89,558.74 L119.96,557.58 L123.02,556.40 L126.09,555.19 L129.15,553.98 L132.22,552.75 L135.29,551.52 L138.35,550.29 L141.42,549.05 L141.42,563.85 L138.35,563.98 L135.29,564.11 L132.22,564.25 L129.15,564.40 L126.09,564.55 L123.02,564.72 L119.96,564.90 L116.89,565.11 L113.82,565.36 L110.76,565.67 L107.69,566.07 L104.63,566.60 L101.56,567.29 L98.49,568.11 L95.43,569.02 L92.36,570.02 L89.30,571.06 L86.23,572.13 L83.17,573.23 L80.10,574.35 L77.03,575.48 L73.97,576.62 L70.90,577.77 L67.84,578.92 Z" fill="#9a90d8" opacity="0.55"/>
<path d="M67.84,566.86 L70.90,566.64 L73.97,566.42 L77.03,566.18 L80.10,565.94 L83.17,565.69 L86.23,565.42 L89.30,565.13 L92.36,564.80 L95.43,564.42 L98.49,563.97 L101.56,563.41 L104.63,562.73 L107.69,561.90 L110.76,560.93 L113.82,559.86 L116.89,558.74 L119.96,557.58 L123.02,556.40 L126.09,555.19 L129.15,553.98 L132.22,552.75 L135.29,551.52 L138.35,550.29 L141.42,549.05" fill="none" stroke="#6a5ab0" stroke-width="0.6" opacity="0.7"/>
<path d="M67.84,578.92 L70.90,577.77 L73.97,576.62 L77.03,575.48 L80.10,574.35 L83.17,573.23 L86.23,572.13 L89.30,571.06 L92.36,570.02 L95.43,569.02 L98.49,568.11 L101.56,567.29 L104.63,566.60 L107.69,566.07 L110.76,565.67 L113.82,565.36 L116.89,565.11 L119.96,564.90 L123.02,564.72 L126.09,564.55 L129.15,564.40 L132.22,564.25 L135.29,564.11 L138.35,563.98 L141.42,563.85" fill="none" stroke="#6a5ab0" stroke-width="0.6" opacity="0.7"/>
<line x1="79.91" y1="563.30" x2="136.98" y2="575.49" stroke="#4a9a46" stroke-width="1.3"/>
<line x1="67.84" y1="565.22" x2="136.24" y2="565.22" stroke="#c99048" stroke-width="1.3"/>
<line x1="67.84" y1="573.16" x2="141.42" y2="556.45" stroke="#54419c" stroke-width="1.3"/>
<text x="83.00" y="546.00" font-size="7.3" fill="#1e1e1e" stroke="#1e1e1e" stroke-width="0.14" textLength="33.6" lengthAdjust="spacingAndGlyphs"><tspan font-style="italic">P</tspan> = .0365</text>
<text transform="translate(24.80,568.40) rotate(-90)" x="0" y="0" font-size="8" font-weight="bold" text-anchor="middle" fill="#1e1e1e" textLength="41.5" lengthAdjust="spacingAndGlyphs" dy="2.88">HU<tspan font-size="5" dy="-2.8">pos</tspan><tspan dy="2.8"> HbF (%)</tspan></text>
<text x="115.60" y="635.18" font-size="8" font-weight="bold" text-anchor="middle" fill="#1e1e1e" textLength="31.5" lengthAdjust="spacingAndGlyphs">Age (years)</text>
<line x1="184.20" y1="557.20" x2="193.10" y2="557.20" stroke="#2a3f7a" stroke-width="1.1"/>
<text x="195.8" y="559.70" font-size="7.6" fill="#1e1e1e" stroke="#1e1e1e" stroke-width="0.14" textLength="37.2" lengthAdjust="spacingAndGlyphs">CC<tspan font-size="6.7"> n = 106</tspan></text>
<line x1="184.20" y1="568.20" x2="193.10" y2="568.20" stroke="#f0b070" stroke-width="1.1"/>
<text x="195.8" y="570.70" font-size="7.6" fill="#1e1e1e" stroke="#1e1e1e" stroke-width="0.14" textLength="33" lengthAdjust="spacingAndGlyphs">CG<tspan font-size="6.7"> n = 81</tspan></text>
<line x1="184.20" y1="578.40" x2="193.10" y2="578.40" stroke="#5aa85a" stroke-width="1.1"/>
<text x="195.8" y="580.90" font-size="7.6" fill="#1e1e1e" stroke="#1e1e1e" stroke-width="0.14" textLength="33" lengthAdjust="spacingAndGlyphs">GG<tspan font-size="6.7"> n = 18</tspan></text>
<rect x="0" y="0" width="520" height="1" fill="#5c5c5c"/>
<rect x="0" y="0" width="1" height="644" fill="#666666"/>
<rect x="519" y="0" width="1" height="644" fill="#444444"/>
<rect x="0" y="643" width="520" height="1" fill="#444444"/>
</svg></body></html>
